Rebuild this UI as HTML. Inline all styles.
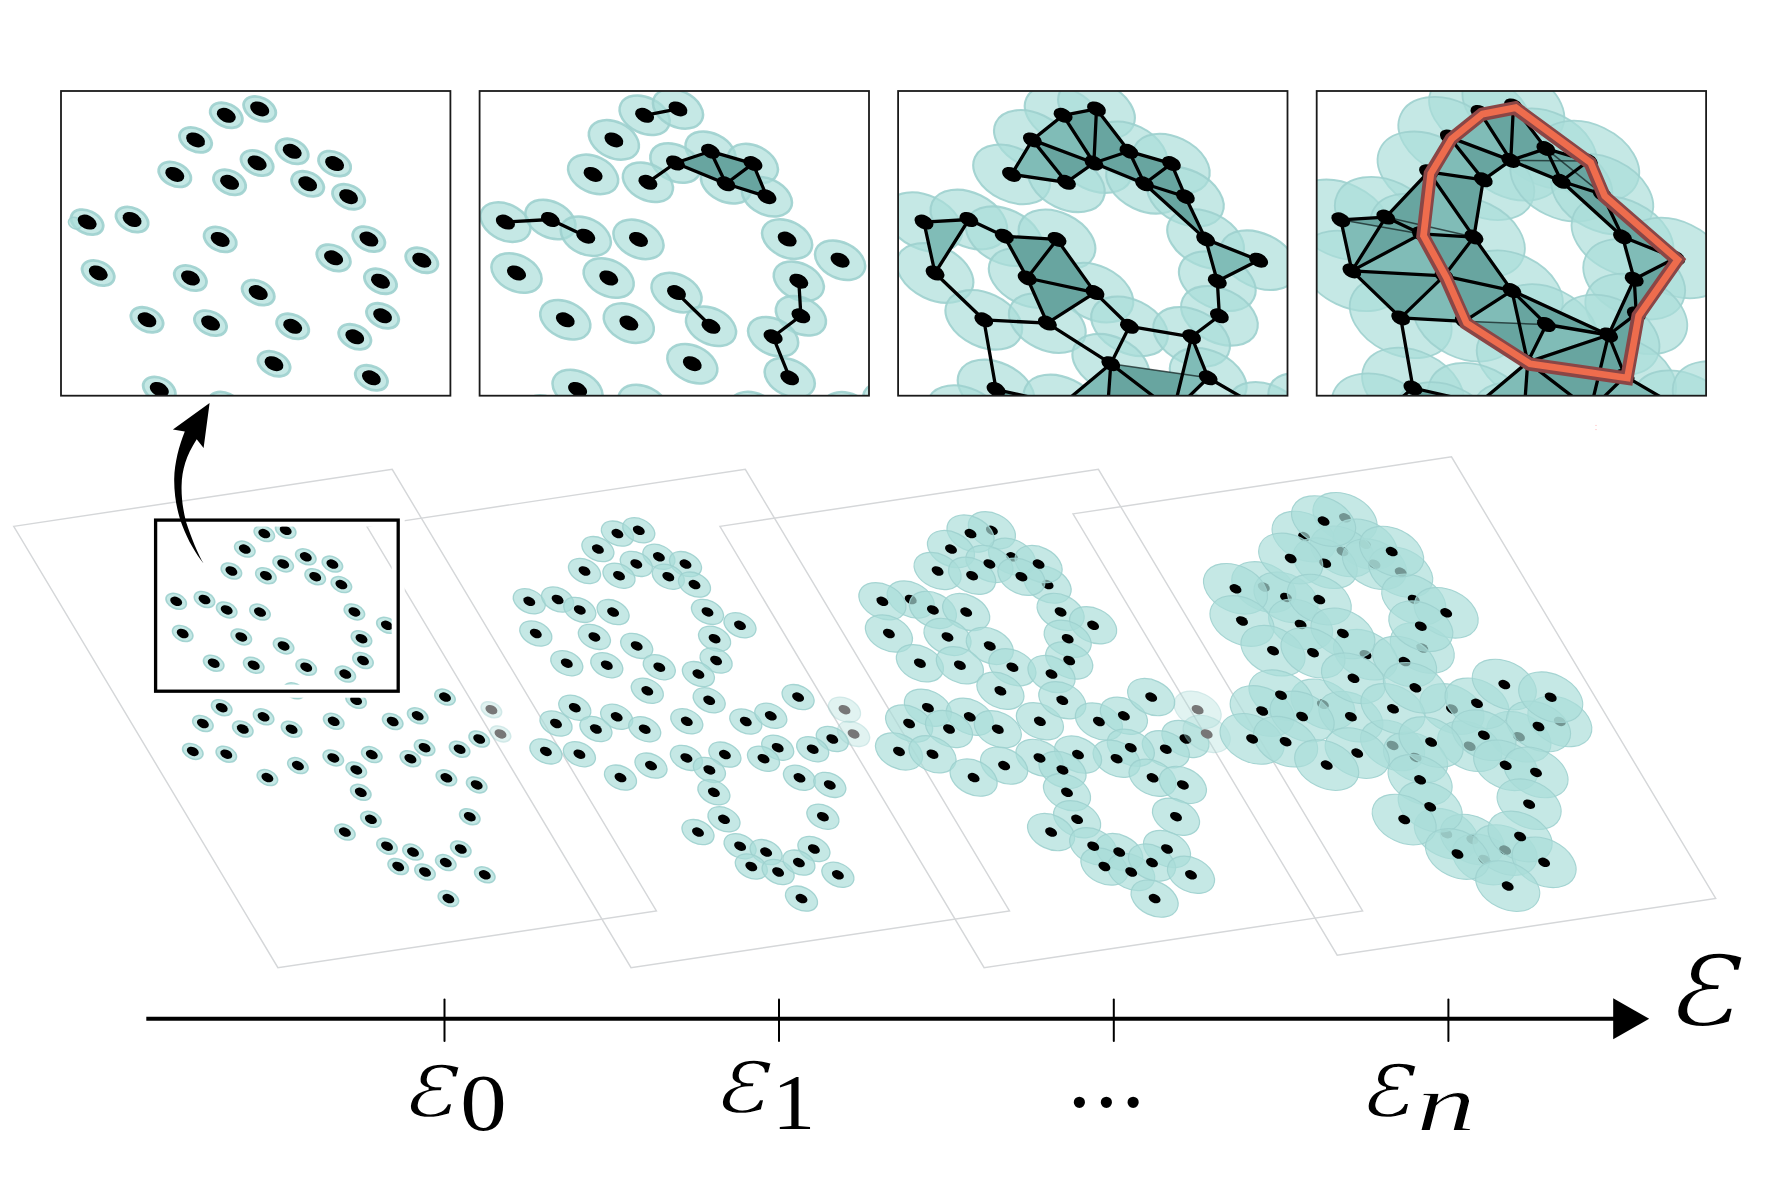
<!DOCTYPE html>
<html lang="en"><head><meta charset="utf-8"><title>Filtration</title>
<style>html,body{margin:0;padding:0;background:#fff;overflow:hidden}svg{display:block}</style></head>
<body>
<svg width="1770" height="1196" viewBox="0 0 1770 1196">
<rect width="1770" height="1196" fill="#fff"/>
<g fill="none" stroke="#d5d7d9" stroke-width="1.45">
<polygon points="13.7,526.4 392.2,469.4 656.4,911.0 277.9,967.7"/>
<polygon points="366.8,526.4 745.3,469.4 1009.5,911.0 631.0,967.7"/>
<polygon points="719.9,526.4 1098.4,469.4 1362.6,911.0 984.1,967.7"/>
<polygon points="1073.0,513.9 1451.5,456.9 1715.7,898.5 1337.2,955.2"/>
</g>
<g id="cloud0">
<ellipse cx="264.3" cy="533.6" rx="10.8" ry="7.2" transform="rotate(25.5 264.3 533.6)" fill="rgba(170,221,217,0.68)" stroke="rgba(157,208,206,0.9)" stroke-width="1.5"/>
<ellipse cx="285.7" cy="530.3" rx="10.8" ry="7.2" transform="rotate(25.5 285.7 530.3)" fill="rgba(170,221,217,0.68)" stroke="rgba(157,208,206,0.9)" stroke-width="1.5"/>
<ellipse cx="244.8" cy="549.1" rx="10.8" ry="7.2" transform="rotate(25.5 244.8 549.1)" fill="rgba(170,221,217,0.68)" stroke="rgba(157,208,206,0.9)" stroke-width="1.5"/>
<ellipse cx="305.8" cy="556.8" rx="10.8" ry="7.2" transform="rotate(25.5 305.8 556.8)" fill="rgba(170,221,217,0.68)" stroke="rgba(157,208,206,0.9)" stroke-width="1.5"/>
<ellipse cx="283.2" cy="563.9" rx="10.8" ry="7.2" transform="rotate(25.5 283.2 563.9)" fill="rgba(170,221,217,0.68)" stroke="rgba(157,208,206,0.9)" stroke-width="1.5"/>
<ellipse cx="332.4" cy="564.1" rx="10.8" ry="7.2" transform="rotate(25.5 332.4 564.1)" fill="rgba(170,221,217,0.68)" stroke="rgba(157,208,206,0.9)" stroke-width="1.5"/>
<ellipse cx="231.4" cy="571.0" rx="10.8" ry="7.2" transform="rotate(25.5 231.4 571.0)" fill="rgba(170,221,217,0.68)" stroke="rgba(157,208,206,0.9)" stroke-width="1.5"/>
<ellipse cx="265.9" cy="575.7" rx="10.8" ry="7.2" transform="rotate(25.5 265.9 575.7)" fill="rgba(170,221,217,0.68)" stroke="rgba(157,208,206,0.9)" stroke-width="1.5"/>
<ellipse cx="315.2" cy="576.7" rx="10.8" ry="7.2" transform="rotate(25.5 315.2 576.7)" fill="rgba(170,221,217,0.68)" stroke="rgba(157,208,206,0.9)" stroke-width="1.5"/>
<ellipse cx="341.4" cy="584.6" rx="10.8" ry="7.2" transform="rotate(25.5 341.4 584.6)" fill="rgba(170,221,217,0.68)" stroke="rgba(157,208,206,0.9)" stroke-width="1.5"/>
<ellipse cx="176.2" cy="601.3" rx="10.8" ry="7.2" transform="rotate(25.5 176.2 601.3)" fill="rgba(170,221,217,0.68)" stroke="rgba(157,208,206,0.9)" stroke-width="1.5"/>
<ellipse cx="204.5" cy="599.5" rx="10.8" ry="7.2" transform="rotate(25.5 204.5 599.5)" fill="rgba(170,221,217,0.68)" stroke="rgba(157,208,206,0.9)" stroke-width="1.5"/>
<ellipse cx="226.7" cy="609.9" rx="10.8" ry="7.2" transform="rotate(25.5 226.7 609.9)" fill="rgba(170,221,217,0.68)" stroke="rgba(157,208,206,0.9)" stroke-width="1.5"/>
<ellipse cx="260.0" cy="612.1" rx="10.8" ry="7.2" transform="rotate(25.5 260.0 612.1)" fill="rgba(170,221,217,0.68)" stroke="rgba(157,208,206,0.9)" stroke-width="1.5"/>
<ellipse cx="354.4" cy="611.9" rx="10.8" ry="7.2" transform="rotate(25.5 354.4 611.9)" fill="rgba(170,221,217,0.68)" stroke="rgba(157,208,206,0.9)" stroke-width="1.5"/>
<ellipse cx="386.9" cy="625.3" rx="10.8" ry="7.2" transform="rotate(25.5 386.9 625.3)" fill="rgba(170,221,217,0.68)" stroke="rgba(157,208,206,0.9)" stroke-width="1.5"/>
<ellipse cx="182.7" cy="633.5" rx="10.8" ry="7.2" transform="rotate(25.5 182.7 633.5)" fill="rgba(170,221,217,0.68)" stroke="rgba(157,208,206,0.9)" stroke-width="1.5"/>
<ellipse cx="241.3" cy="636.9" rx="10.8" ry="7.2" transform="rotate(25.5 241.3 636.9)" fill="rgba(170,221,217,0.68)" stroke="rgba(157,208,206,0.9)" stroke-width="1.5"/>
<ellipse cx="361.5" cy="638.7" rx="10.8" ry="7.2" transform="rotate(25.5 361.5 638.7)" fill="rgba(170,221,217,0.68)" stroke="rgba(157,208,206,0.9)" stroke-width="1.5"/>
<ellipse cx="283.6" cy="645.9" rx="10.8" ry="7.2" transform="rotate(25.5 283.6 645.9)" fill="rgba(170,221,217,0.68)" stroke="rgba(157,208,206,0.9)" stroke-width="1.5"/>
<ellipse cx="363.0" cy="660.5" rx="10.8" ry="7.2" transform="rotate(25.5 363.0 660.5)" fill="rgba(170,221,217,0.68)" stroke="rgba(157,208,206,0.9)" stroke-width="1.5"/>
<ellipse cx="213.7" cy="663.2" rx="10.8" ry="7.2" transform="rotate(25.5 213.7 663.2)" fill="rgba(170,221,217,0.68)" stroke="rgba(157,208,206,0.9)" stroke-width="1.5"/>
<ellipse cx="253.7" cy="665.2" rx="10.8" ry="7.2" transform="rotate(25.5 253.7 665.2)" fill="rgba(170,221,217,0.68)" stroke="rgba(157,208,206,0.9)" stroke-width="1.5"/>
<ellipse cx="306.2" cy="667.2" rx="10.8" ry="7.2" transform="rotate(25.5 306.2 667.2)" fill="rgba(170,221,217,0.68)" stroke="rgba(157,208,206,0.9)" stroke-width="1.5"/>
<ellipse cx="345.3" cy="674.1" rx="10.8" ry="7.2" transform="rotate(25.5 345.3 674.1)" fill="rgba(170,221,217,0.68)" stroke="rgba(157,208,206,0.9)" stroke-width="1.5"/>
<ellipse cx="294.2" cy="690.8" rx="10.8" ry="7.2" transform="rotate(25.5 294.2 690.8)" fill="rgba(170,221,217,0.68)" stroke="rgba(157,208,206,0.9)" stroke-width="1.5"/>
<ellipse cx="221.7" cy="707.7" rx="10.8" ry="7.2" transform="rotate(25.5 221.7 707.7)" fill="rgba(170,221,217,0.68)" stroke="rgba(157,208,206,0.9)" stroke-width="1.5"/>
<ellipse cx="202.9" cy="723.5" rx="10.8" ry="7.2" transform="rotate(25.5 202.9 723.5)" fill="rgba(170,221,217,0.68)" stroke="rgba(157,208,206,0.9)" stroke-width="1.5"/>
<ellipse cx="263.6" cy="716.8" rx="10.8" ry="7.2" transform="rotate(25.5 263.6 716.8)" fill="rgba(170,221,217,0.68)" stroke="rgba(157,208,206,0.9)" stroke-width="1.5"/>
<ellipse cx="242.8" cy="729.0" rx="10.8" ry="7.2" transform="rotate(25.5 242.8 729.0)" fill="rgba(170,221,217,0.68)" stroke="rgba(157,208,206,0.9)" stroke-width="1.5"/>
<ellipse cx="291.6" cy="729.2" rx="10.8" ry="7.2" transform="rotate(25.5 291.6 729.2)" fill="rgba(170,221,217,0.68)" stroke="rgba(157,208,206,0.9)" stroke-width="1.5"/>
<ellipse cx="333.7" cy="721.3" rx="10.8" ry="7.2" transform="rotate(25.5 333.7 721.3)" fill="rgba(170,221,217,0.68)" stroke="rgba(157,208,206,0.9)" stroke-width="1.5"/>
<ellipse cx="356.1" cy="700.3" rx="10.8" ry="7.2" transform="rotate(25.5 356.1 700.3)" fill="rgba(170,221,217,0.68)" stroke="rgba(157,208,206,0.9)" stroke-width="1.5"/>
<ellipse cx="392.7" cy="721.5" rx="10.8" ry="7.2" transform="rotate(25.5 392.7 721.5)" fill="rgba(170,221,217,0.68)" stroke="rgba(157,208,206,0.9)" stroke-width="1.5"/>
<ellipse cx="417.7" cy="715.8" rx="10.8" ry="7.2" transform="rotate(25.5 417.7 715.8)" fill="rgba(170,221,217,0.68)" stroke="rgba(157,208,206,0.9)" stroke-width="1.5"/>
<ellipse cx="445.0" cy="697.1" rx="10.8" ry="7.2" transform="rotate(25.5 445.0 697.1)" fill="rgba(170,221,217,0.68)" stroke="rgba(157,208,206,0.9)" stroke-width="1.5"/>
<ellipse cx="479.2" cy="739.0" rx="10.8" ry="7.2" transform="rotate(25.5 479.2 739.0)" fill="rgba(170,221,217,0.68)" stroke="rgba(157,208,206,0.9)" stroke-width="1.5"/>
<ellipse cx="459.6" cy="749.2" rx="10.8" ry="7.2" transform="rotate(25.5 459.6 749.2)" fill="rgba(170,221,217,0.68)" stroke="rgba(157,208,206,0.9)" stroke-width="1.5"/>
<ellipse cx="424.6" cy="747.7" rx="10.8" ry="7.2" transform="rotate(25.5 424.6 747.7)" fill="rgba(170,221,217,0.68)" stroke="rgba(157,208,206,0.9)" stroke-width="1.5"/>
<ellipse cx="410.4" cy="758.7" rx="10.8" ry="7.2" transform="rotate(25.5 410.4 758.7)" fill="rgba(170,221,217,0.68)" stroke="rgba(157,208,206,0.9)" stroke-width="1.5"/>
<ellipse cx="371.8" cy="754.6" rx="10.8" ry="7.2" transform="rotate(25.5 371.8 754.6)" fill="rgba(170,221,217,0.68)" stroke="rgba(157,208,206,0.9)" stroke-width="1.5"/>
<ellipse cx="333.3" cy="757.9" rx="10.8" ry="7.2" transform="rotate(25.5 333.3 757.9)" fill="rgba(170,221,217,0.68)" stroke="rgba(157,208,206,0.9)" stroke-width="1.5"/>
<ellipse cx="356.3" cy="769.9" rx="10.8" ry="7.2" transform="rotate(25.5 356.3 769.9)" fill="rgba(170,221,217,0.68)" stroke="rgba(157,208,206,0.9)" stroke-width="1.5"/>
<ellipse cx="192.8" cy="751.4" rx="10.8" ry="7.2" transform="rotate(25.5 192.8 751.4)" fill="rgba(170,221,217,0.68)" stroke="rgba(157,208,206,0.9)" stroke-width="1.5"/>
<ellipse cx="226.3" cy="754.2" rx="10.8" ry="7.2" transform="rotate(25.5 226.3 754.2)" fill="rgba(170,221,217,0.68)" stroke="rgba(157,208,206,0.9)" stroke-width="1.5"/>
<ellipse cx="297.9" cy="765.6" rx="10.8" ry="7.2" transform="rotate(25.5 297.9 765.6)" fill="rgba(170,221,217,0.68)" stroke="rgba(157,208,206,0.9)" stroke-width="1.5"/>
<ellipse cx="267.4" cy="777.6" rx="10.8" ry="7.2" transform="rotate(25.5 267.4 777.6)" fill="rgba(170,221,217,0.68)" stroke="rgba(157,208,206,0.9)" stroke-width="1.5"/>
<ellipse cx="360.8" cy="792.3" rx="10.8" ry="7.2" transform="rotate(25.5 360.8 792.3)" fill="rgba(170,221,217,0.68)" stroke="rgba(157,208,206,0.9)" stroke-width="1.5"/>
<ellipse cx="446.4" cy="777.8" rx="10.8" ry="7.2" transform="rotate(25.5 446.4 777.8)" fill="rgba(170,221,217,0.68)" stroke="rgba(157,208,206,0.9)" stroke-width="1.5"/>
<ellipse cx="476.7" cy="784.9" rx="10.8" ry="7.2" transform="rotate(25.5 476.7 784.9)" fill="rgba(170,221,217,0.68)" stroke="rgba(157,208,206,0.9)" stroke-width="1.5"/>
<ellipse cx="370.9" cy="819.3" rx="10.8" ry="7.2" transform="rotate(25.5 370.9 819.3)" fill="rgba(170,221,217,0.68)" stroke="rgba(157,208,206,0.9)" stroke-width="1.5"/>
<ellipse cx="344.9" cy="832.1" rx="10.8" ry="7.2" transform="rotate(25.5 344.9 832.1)" fill="rgba(170,221,217,0.68)" stroke="rgba(157,208,206,0.9)" stroke-width="1.5"/>
<ellipse cx="469.8" cy="816.7" rx="10.8" ry="7.2" transform="rotate(25.5 469.8 816.7)" fill="rgba(170,221,217,0.68)" stroke="rgba(157,208,206,0.9)" stroke-width="1.5"/>
<ellipse cx="387.0" cy="846.2" rx="10.8" ry="7.2" transform="rotate(25.5 387.0 846.2)" fill="rgba(170,221,217,0.68)" stroke="rgba(157,208,206,0.9)" stroke-width="1.5"/>
<ellipse cx="413.0" cy="852.1" rx="10.8" ry="7.2" transform="rotate(25.5 413.0 852.1)" fill="rgba(170,221,217,0.68)" stroke="rgba(157,208,206,0.9)" stroke-width="1.5"/>
<ellipse cx="460.8" cy="849.0" rx="10.8" ry="7.2" transform="rotate(25.5 460.8 849.0)" fill="rgba(170,221,217,0.68)" stroke="rgba(157,208,206,0.9)" stroke-width="1.5"/>
<ellipse cx="398.2" cy="866.5" rx="10.8" ry="7.2" transform="rotate(25.5 398.2 866.5)" fill="rgba(170,221,217,0.68)" stroke="rgba(157,208,206,0.9)" stroke-width="1.5"/>
<ellipse cx="425.0" cy="872.0" rx="10.8" ry="7.2" transform="rotate(25.5 425.0 872.0)" fill="rgba(170,221,217,0.68)" stroke="rgba(157,208,206,0.9)" stroke-width="1.5"/>
<ellipse cx="445.8" cy="862.6" rx="10.8" ry="7.2" transform="rotate(25.5 445.8 862.6)" fill="rgba(170,221,217,0.68)" stroke="rgba(157,208,206,0.9)" stroke-width="1.5"/>
<ellipse cx="484.8" cy="874.8" rx="10.8" ry="7.2" transform="rotate(25.5 484.8 874.8)" fill="rgba(170,221,217,0.68)" stroke="rgba(157,208,206,0.9)" stroke-width="1.5"/>
<ellipse cx="448.4" cy="898.6" rx="10.8" ry="7.2" transform="rotate(25.5 448.4 898.6)" fill="rgba(170,221,217,0.68)" stroke="rgba(157,208,206,0.9)" stroke-width="1.5"/>
<ellipse cx="264.3" cy="533.6" rx="6.3" ry="4.3" transform="rotate(25.5 264.3 533.6)" fill="#000"/>
<ellipse cx="285.7" cy="530.3" rx="6.3" ry="4.3" transform="rotate(25.5 285.7 530.3)" fill="#000"/>
<ellipse cx="244.8" cy="549.1" rx="6.3" ry="4.3" transform="rotate(25.5 244.8 549.1)" fill="#000"/>
<ellipse cx="305.8" cy="556.8" rx="6.3" ry="4.3" transform="rotate(25.5 305.8 556.8)" fill="#000"/>
<ellipse cx="283.2" cy="563.9" rx="6.3" ry="4.3" transform="rotate(25.5 283.2 563.9)" fill="#000"/>
<ellipse cx="332.4" cy="564.1" rx="6.3" ry="4.3" transform="rotate(25.5 332.4 564.1)" fill="#000"/>
<ellipse cx="231.4" cy="571.0" rx="6.3" ry="4.3" transform="rotate(25.5 231.4 571.0)" fill="#000"/>
<ellipse cx="265.9" cy="575.7" rx="6.3" ry="4.3" transform="rotate(25.5 265.9 575.7)" fill="#000"/>
<ellipse cx="315.2" cy="576.7" rx="6.3" ry="4.3" transform="rotate(25.5 315.2 576.7)" fill="#000"/>
<ellipse cx="341.4" cy="584.6" rx="6.3" ry="4.3" transform="rotate(25.5 341.4 584.6)" fill="#000"/>
<ellipse cx="176.2" cy="601.3" rx="6.3" ry="4.3" transform="rotate(25.5 176.2 601.3)" fill="#000"/>
<ellipse cx="204.5" cy="599.5" rx="6.3" ry="4.3" transform="rotate(25.5 204.5 599.5)" fill="#000"/>
<ellipse cx="226.7" cy="609.9" rx="6.3" ry="4.3" transform="rotate(25.5 226.7 609.9)" fill="#000"/>
<ellipse cx="260.0" cy="612.1" rx="6.3" ry="4.3" transform="rotate(25.5 260.0 612.1)" fill="#000"/>
<ellipse cx="354.4" cy="611.9" rx="6.3" ry="4.3" transform="rotate(25.5 354.4 611.9)" fill="#000"/>
<ellipse cx="386.9" cy="625.3" rx="6.3" ry="4.3" transform="rotate(25.5 386.9 625.3)" fill="#000"/>
<ellipse cx="182.7" cy="633.5" rx="6.3" ry="4.3" transform="rotate(25.5 182.7 633.5)" fill="#000"/>
<ellipse cx="241.3" cy="636.9" rx="6.3" ry="4.3" transform="rotate(25.5 241.3 636.9)" fill="#000"/>
<ellipse cx="361.5" cy="638.7" rx="6.3" ry="4.3" transform="rotate(25.5 361.5 638.7)" fill="#000"/>
<ellipse cx="283.6" cy="645.9" rx="6.3" ry="4.3" transform="rotate(25.5 283.6 645.9)" fill="#000"/>
<ellipse cx="363.0" cy="660.5" rx="6.3" ry="4.3" transform="rotate(25.5 363.0 660.5)" fill="#000"/>
<ellipse cx="213.7" cy="663.2" rx="6.3" ry="4.3" transform="rotate(25.5 213.7 663.2)" fill="#000"/>
<ellipse cx="253.7" cy="665.2" rx="6.3" ry="4.3" transform="rotate(25.5 253.7 665.2)" fill="#000"/>
<ellipse cx="306.2" cy="667.2" rx="6.3" ry="4.3" transform="rotate(25.5 306.2 667.2)" fill="#000"/>
<ellipse cx="345.3" cy="674.1" rx="6.3" ry="4.3" transform="rotate(25.5 345.3 674.1)" fill="#000"/>
<ellipse cx="294.2" cy="690.8" rx="6.3" ry="4.3" transform="rotate(25.5 294.2 690.8)" fill="#000"/>
<ellipse cx="221.7" cy="707.7" rx="6.3" ry="4.3" transform="rotate(25.5 221.7 707.7)" fill="#000"/>
<ellipse cx="202.9" cy="723.5" rx="6.3" ry="4.3" transform="rotate(25.5 202.9 723.5)" fill="#000"/>
<ellipse cx="263.6" cy="716.8" rx="6.3" ry="4.3" transform="rotate(25.5 263.6 716.8)" fill="#000"/>
<ellipse cx="242.8" cy="729.0" rx="6.3" ry="4.3" transform="rotate(25.5 242.8 729.0)" fill="#000"/>
<ellipse cx="291.6" cy="729.2" rx="6.3" ry="4.3" transform="rotate(25.5 291.6 729.2)" fill="#000"/>
<ellipse cx="333.7" cy="721.3" rx="6.3" ry="4.3" transform="rotate(25.5 333.7 721.3)" fill="#000"/>
<ellipse cx="356.1" cy="700.3" rx="6.3" ry="4.3" transform="rotate(25.5 356.1 700.3)" fill="#000"/>
<ellipse cx="392.7" cy="721.5" rx="6.3" ry="4.3" transform="rotate(25.5 392.7 721.5)" fill="#000"/>
<ellipse cx="417.7" cy="715.8" rx="6.3" ry="4.3" transform="rotate(25.5 417.7 715.8)" fill="#000"/>
<ellipse cx="445.0" cy="697.1" rx="6.3" ry="4.3" transform="rotate(25.5 445.0 697.1)" fill="#000"/>
<ellipse cx="479.2" cy="739.0" rx="6.3" ry="4.3" transform="rotate(25.5 479.2 739.0)" fill="#000"/>
<ellipse cx="459.6" cy="749.2" rx="6.3" ry="4.3" transform="rotate(25.5 459.6 749.2)" fill="#000"/>
<ellipse cx="424.6" cy="747.7" rx="6.3" ry="4.3" transform="rotate(25.5 424.6 747.7)" fill="#000"/>
<ellipse cx="410.4" cy="758.7" rx="6.3" ry="4.3" transform="rotate(25.5 410.4 758.7)" fill="#000"/>
<ellipse cx="371.8" cy="754.6" rx="6.3" ry="4.3" transform="rotate(25.5 371.8 754.6)" fill="#000"/>
<ellipse cx="333.3" cy="757.9" rx="6.3" ry="4.3" transform="rotate(25.5 333.3 757.9)" fill="#000"/>
<ellipse cx="356.3" cy="769.9" rx="6.3" ry="4.3" transform="rotate(25.5 356.3 769.9)" fill="#000"/>
<ellipse cx="192.8" cy="751.4" rx="6.3" ry="4.3" transform="rotate(25.5 192.8 751.4)" fill="#000"/>
<ellipse cx="226.3" cy="754.2" rx="6.3" ry="4.3" transform="rotate(25.5 226.3 754.2)" fill="#000"/>
<ellipse cx="297.9" cy="765.6" rx="6.3" ry="4.3" transform="rotate(25.5 297.9 765.6)" fill="#000"/>
<ellipse cx="267.4" cy="777.6" rx="6.3" ry="4.3" transform="rotate(25.5 267.4 777.6)" fill="#000"/>
<ellipse cx="360.8" cy="792.3" rx="6.3" ry="4.3" transform="rotate(25.5 360.8 792.3)" fill="#000"/>
<ellipse cx="446.4" cy="777.8" rx="6.3" ry="4.3" transform="rotate(25.5 446.4 777.8)" fill="#000"/>
<ellipse cx="476.7" cy="784.9" rx="6.3" ry="4.3" transform="rotate(25.5 476.7 784.9)" fill="#000"/>
<ellipse cx="370.9" cy="819.3" rx="6.3" ry="4.3" transform="rotate(25.5 370.9 819.3)" fill="#000"/>
<ellipse cx="344.9" cy="832.1" rx="6.3" ry="4.3" transform="rotate(25.5 344.9 832.1)" fill="#000"/>
<ellipse cx="469.8" cy="816.7" rx="6.3" ry="4.3" transform="rotate(25.5 469.8 816.7)" fill="#000"/>
<ellipse cx="387.0" cy="846.2" rx="6.3" ry="4.3" transform="rotate(25.5 387.0 846.2)" fill="#000"/>
<ellipse cx="413.0" cy="852.1" rx="6.3" ry="4.3" transform="rotate(25.5 413.0 852.1)" fill="#000"/>
<ellipse cx="460.8" cy="849.0" rx="6.3" ry="4.3" transform="rotate(25.5 460.8 849.0)" fill="#000"/>
<ellipse cx="398.2" cy="866.5" rx="6.3" ry="4.3" transform="rotate(25.5 398.2 866.5)" fill="#000"/>
<ellipse cx="425.0" cy="872.0" rx="6.3" ry="4.3" transform="rotate(25.5 425.0 872.0)" fill="#000"/>
<ellipse cx="445.8" cy="862.6" rx="6.3" ry="4.3" transform="rotate(25.5 445.8 862.6)" fill="#000"/>
<ellipse cx="484.8" cy="874.8" rx="6.3" ry="4.3" transform="rotate(25.5 484.8 874.8)" fill="#000"/>
<ellipse cx="448.4" cy="898.6" rx="6.3" ry="4.3" transform="rotate(25.5 448.4 898.6)" fill="#000"/>
<ellipse cx="491.4" cy="709.7" rx="10.8" ry="7.2" transform="rotate(25.5 491.4 709.7)" fill="rgba(170,221,217,0.68)" stroke="rgba(157,208,206,0.9)" stroke-width="1.5" opacity="0.5"/>
<ellipse cx="491.4" cy="709.7" rx="6.3" ry="4.3" transform="rotate(25.5 491.4 709.7)" fill="#777"/>
<ellipse cx="500.5" cy="733.9" rx="10.8" ry="7.2" transform="rotate(25.5 500.5 733.9)" fill="rgba(170,221,217,0.68)" stroke="rgba(157,208,206,0.9)" stroke-width="1.5" opacity="0.5"/>
<ellipse cx="500.5" cy="733.9" rx="6.3" ry="4.3" transform="rotate(25.5 500.5 733.9)" fill="#777"/>
</g>
<g id="cloud1">
<ellipse cx="617.4" cy="533.6" rx="16.9" ry="11.4" transform="rotate(25.5 617.4 533.6)" fill="rgba(170,221,217,0.68)" stroke="rgba(157,208,206,0.9)" stroke-width="1.3"/>
<ellipse cx="638.8" cy="530.3" rx="16.9" ry="11.4" transform="rotate(25.5 638.8 530.3)" fill="rgba(170,221,217,0.68)" stroke="rgba(157,208,206,0.9)" stroke-width="1.3"/>
<ellipse cx="597.9" cy="549.1" rx="16.9" ry="11.4" transform="rotate(25.5 597.9 549.1)" fill="rgba(170,221,217,0.68)" stroke="rgba(157,208,206,0.9)" stroke-width="1.3"/>
<ellipse cx="658.9" cy="556.8" rx="16.9" ry="11.4" transform="rotate(25.5 658.9 556.8)" fill="rgba(170,221,217,0.68)" stroke="rgba(157,208,206,0.9)" stroke-width="1.3"/>
<ellipse cx="636.3" cy="563.9" rx="16.9" ry="11.4" transform="rotate(25.5 636.3 563.9)" fill="rgba(170,221,217,0.68)" stroke="rgba(157,208,206,0.9)" stroke-width="1.3"/>
<ellipse cx="685.5" cy="564.1" rx="16.9" ry="11.4" transform="rotate(25.5 685.5 564.1)" fill="rgba(170,221,217,0.68)" stroke="rgba(157,208,206,0.9)" stroke-width="1.3"/>
<ellipse cx="584.5" cy="571.0" rx="16.9" ry="11.4" transform="rotate(25.5 584.5 571.0)" fill="rgba(170,221,217,0.68)" stroke="rgba(157,208,206,0.9)" stroke-width="1.3"/>
<ellipse cx="619.0" cy="575.7" rx="16.9" ry="11.4" transform="rotate(25.5 619.0 575.7)" fill="rgba(170,221,217,0.68)" stroke="rgba(157,208,206,0.9)" stroke-width="1.3"/>
<ellipse cx="668.3" cy="576.7" rx="16.9" ry="11.4" transform="rotate(25.5 668.3 576.7)" fill="rgba(170,221,217,0.68)" stroke="rgba(157,208,206,0.9)" stroke-width="1.3"/>
<ellipse cx="694.5" cy="584.6" rx="16.9" ry="11.4" transform="rotate(25.5 694.5 584.6)" fill="rgba(170,221,217,0.68)" stroke="rgba(157,208,206,0.9)" stroke-width="1.3"/>
<ellipse cx="529.3" cy="601.3" rx="16.9" ry="11.4" transform="rotate(25.5 529.3 601.3)" fill="rgba(170,221,217,0.68)" stroke="rgba(157,208,206,0.9)" stroke-width="1.3"/>
<ellipse cx="557.6" cy="599.5" rx="16.9" ry="11.4" transform="rotate(25.5 557.6 599.5)" fill="rgba(170,221,217,0.68)" stroke="rgba(157,208,206,0.9)" stroke-width="1.3"/>
<ellipse cx="579.8" cy="609.9" rx="16.9" ry="11.4" transform="rotate(25.5 579.8 609.9)" fill="rgba(170,221,217,0.68)" stroke="rgba(157,208,206,0.9)" stroke-width="1.3"/>
<ellipse cx="613.1" cy="612.1" rx="16.9" ry="11.4" transform="rotate(25.5 613.1 612.1)" fill="rgba(170,221,217,0.68)" stroke="rgba(157,208,206,0.9)" stroke-width="1.3"/>
<ellipse cx="707.5" cy="611.9" rx="16.9" ry="11.4" transform="rotate(25.5 707.5 611.9)" fill="rgba(170,221,217,0.68)" stroke="rgba(157,208,206,0.9)" stroke-width="1.3"/>
<ellipse cx="740.0" cy="625.3" rx="16.9" ry="11.4" transform="rotate(25.5 740.0 625.3)" fill="rgba(170,221,217,0.68)" stroke="rgba(157,208,206,0.9)" stroke-width="1.3"/>
<ellipse cx="535.8" cy="633.5" rx="16.9" ry="11.4" transform="rotate(25.5 535.8 633.5)" fill="rgba(170,221,217,0.68)" stroke="rgba(157,208,206,0.9)" stroke-width="1.3"/>
<ellipse cx="594.4" cy="636.9" rx="16.9" ry="11.4" transform="rotate(25.5 594.4 636.9)" fill="rgba(170,221,217,0.68)" stroke="rgba(157,208,206,0.9)" stroke-width="1.3"/>
<ellipse cx="714.6" cy="638.7" rx="16.9" ry="11.4" transform="rotate(25.5 714.6 638.7)" fill="rgba(170,221,217,0.68)" stroke="rgba(157,208,206,0.9)" stroke-width="1.3"/>
<ellipse cx="636.7" cy="645.9" rx="16.9" ry="11.4" transform="rotate(25.5 636.7 645.9)" fill="rgba(170,221,217,0.68)" stroke="rgba(157,208,206,0.9)" stroke-width="1.3"/>
<ellipse cx="716.1" cy="660.5" rx="16.9" ry="11.4" transform="rotate(25.5 716.1 660.5)" fill="rgba(170,221,217,0.68)" stroke="rgba(157,208,206,0.9)" stroke-width="1.3"/>
<ellipse cx="566.8" cy="663.2" rx="16.9" ry="11.4" transform="rotate(25.5 566.8 663.2)" fill="rgba(170,221,217,0.68)" stroke="rgba(157,208,206,0.9)" stroke-width="1.3"/>
<ellipse cx="606.8" cy="665.2" rx="16.9" ry="11.4" transform="rotate(25.5 606.8 665.2)" fill="rgba(170,221,217,0.68)" stroke="rgba(157,208,206,0.9)" stroke-width="1.3"/>
<ellipse cx="659.3" cy="667.2" rx="16.9" ry="11.4" transform="rotate(25.5 659.3 667.2)" fill="rgba(170,221,217,0.68)" stroke="rgba(157,208,206,0.9)" stroke-width="1.3"/>
<ellipse cx="698.4" cy="674.1" rx="16.9" ry="11.4" transform="rotate(25.5 698.4 674.1)" fill="rgba(170,221,217,0.68)" stroke="rgba(157,208,206,0.9)" stroke-width="1.3"/>
<ellipse cx="647.3" cy="690.8" rx="16.9" ry="11.4" transform="rotate(25.5 647.3 690.8)" fill="rgba(170,221,217,0.68)" stroke="rgba(157,208,206,0.9)" stroke-width="1.3"/>
<ellipse cx="574.8" cy="707.7" rx="16.9" ry="11.4" transform="rotate(25.5 574.8 707.7)" fill="rgba(170,221,217,0.68)" stroke="rgba(157,208,206,0.9)" stroke-width="1.3"/>
<ellipse cx="556.0" cy="723.5" rx="16.9" ry="11.4" transform="rotate(25.5 556.0 723.5)" fill="rgba(170,221,217,0.68)" stroke="rgba(157,208,206,0.9)" stroke-width="1.3"/>
<ellipse cx="616.7" cy="716.8" rx="16.9" ry="11.4" transform="rotate(25.5 616.7 716.8)" fill="rgba(170,221,217,0.68)" stroke="rgba(157,208,206,0.9)" stroke-width="1.3"/>
<ellipse cx="595.9" cy="729.0" rx="16.9" ry="11.4" transform="rotate(25.5 595.9 729.0)" fill="rgba(170,221,217,0.68)" stroke="rgba(157,208,206,0.9)" stroke-width="1.3"/>
<ellipse cx="644.7" cy="729.2" rx="16.9" ry="11.4" transform="rotate(25.5 644.7 729.2)" fill="rgba(170,221,217,0.68)" stroke="rgba(157,208,206,0.9)" stroke-width="1.3"/>
<ellipse cx="686.8" cy="721.3" rx="16.9" ry="11.4" transform="rotate(25.5 686.8 721.3)" fill="rgba(170,221,217,0.68)" stroke="rgba(157,208,206,0.9)" stroke-width="1.3"/>
<ellipse cx="709.2" cy="700.3" rx="16.9" ry="11.4" transform="rotate(25.5 709.2 700.3)" fill="rgba(170,221,217,0.68)" stroke="rgba(157,208,206,0.9)" stroke-width="1.3"/>
<ellipse cx="745.8" cy="721.5" rx="16.9" ry="11.4" transform="rotate(25.5 745.8 721.5)" fill="rgba(170,221,217,0.68)" stroke="rgba(157,208,206,0.9)" stroke-width="1.3"/>
<ellipse cx="770.8" cy="715.8" rx="16.9" ry="11.4" transform="rotate(25.5 770.8 715.8)" fill="rgba(170,221,217,0.68)" stroke="rgba(157,208,206,0.9)" stroke-width="1.3"/>
<ellipse cx="798.1" cy="697.1" rx="16.9" ry="11.4" transform="rotate(25.5 798.1 697.1)" fill="rgba(170,221,217,0.68)" stroke="rgba(157,208,206,0.9)" stroke-width="1.3"/>
<ellipse cx="832.3" cy="739.0" rx="16.9" ry="11.4" transform="rotate(25.5 832.3 739.0)" fill="rgba(170,221,217,0.68)" stroke="rgba(157,208,206,0.9)" stroke-width="1.3"/>
<ellipse cx="812.7" cy="749.2" rx="16.9" ry="11.4" transform="rotate(25.5 812.7 749.2)" fill="rgba(170,221,217,0.68)" stroke="rgba(157,208,206,0.9)" stroke-width="1.3"/>
<ellipse cx="777.7" cy="747.7" rx="16.9" ry="11.4" transform="rotate(25.5 777.7 747.7)" fill="rgba(170,221,217,0.68)" stroke="rgba(157,208,206,0.9)" stroke-width="1.3"/>
<ellipse cx="763.5" cy="758.7" rx="16.9" ry="11.4" transform="rotate(25.5 763.5 758.7)" fill="rgba(170,221,217,0.68)" stroke="rgba(157,208,206,0.9)" stroke-width="1.3"/>
<ellipse cx="724.9" cy="754.6" rx="16.9" ry="11.4" transform="rotate(25.5 724.9 754.6)" fill="rgba(170,221,217,0.68)" stroke="rgba(157,208,206,0.9)" stroke-width="1.3"/>
<ellipse cx="686.4" cy="757.9" rx="16.9" ry="11.4" transform="rotate(25.5 686.4 757.9)" fill="rgba(170,221,217,0.68)" stroke="rgba(157,208,206,0.9)" stroke-width="1.3"/>
<ellipse cx="709.4" cy="769.9" rx="16.9" ry="11.4" transform="rotate(25.5 709.4 769.9)" fill="rgba(170,221,217,0.68)" stroke="rgba(157,208,206,0.9)" stroke-width="1.3"/>
<ellipse cx="545.9" cy="751.4" rx="16.9" ry="11.4" transform="rotate(25.5 545.9 751.4)" fill="rgba(170,221,217,0.68)" stroke="rgba(157,208,206,0.9)" stroke-width="1.3"/>
<ellipse cx="579.4" cy="754.2" rx="16.9" ry="11.4" transform="rotate(25.5 579.4 754.2)" fill="rgba(170,221,217,0.68)" stroke="rgba(157,208,206,0.9)" stroke-width="1.3"/>
<ellipse cx="651.0" cy="765.6" rx="16.9" ry="11.4" transform="rotate(25.5 651.0 765.6)" fill="rgba(170,221,217,0.68)" stroke="rgba(157,208,206,0.9)" stroke-width="1.3"/>
<ellipse cx="620.5" cy="777.6" rx="16.9" ry="11.4" transform="rotate(25.5 620.5 777.6)" fill="rgba(170,221,217,0.68)" stroke="rgba(157,208,206,0.9)" stroke-width="1.3"/>
<ellipse cx="713.9" cy="792.3" rx="16.9" ry="11.4" transform="rotate(25.5 713.9 792.3)" fill="rgba(170,221,217,0.68)" stroke="rgba(157,208,206,0.9)" stroke-width="1.3"/>
<ellipse cx="799.5" cy="777.8" rx="16.9" ry="11.4" transform="rotate(25.5 799.5 777.8)" fill="rgba(170,221,217,0.68)" stroke="rgba(157,208,206,0.9)" stroke-width="1.3"/>
<ellipse cx="829.8" cy="784.9" rx="16.9" ry="11.4" transform="rotate(25.5 829.8 784.9)" fill="rgba(170,221,217,0.68)" stroke="rgba(157,208,206,0.9)" stroke-width="1.3"/>
<ellipse cx="724.0" cy="819.3" rx="16.9" ry="11.4" transform="rotate(25.5 724.0 819.3)" fill="rgba(170,221,217,0.68)" stroke="rgba(157,208,206,0.9)" stroke-width="1.3"/>
<ellipse cx="698.0" cy="832.1" rx="16.9" ry="11.4" transform="rotate(25.5 698.0 832.1)" fill="rgba(170,221,217,0.68)" stroke="rgba(157,208,206,0.9)" stroke-width="1.3"/>
<ellipse cx="822.9" cy="816.7" rx="16.9" ry="11.4" transform="rotate(25.5 822.9 816.7)" fill="rgba(170,221,217,0.68)" stroke="rgba(157,208,206,0.9)" stroke-width="1.3"/>
<ellipse cx="740.1" cy="846.2" rx="16.9" ry="11.4" transform="rotate(25.5 740.1 846.2)" fill="rgba(170,221,217,0.68)" stroke="rgba(157,208,206,0.9)" stroke-width="1.3"/>
<ellipse cx="766.1" cy="852.1" rx="16.9" ry="11.4" transform="rotate(25.5 766.1 852.1)" fill="rgba(170,221,217,0.68)" stroke="rgba(157,208,206,0.9)" stroke-width="1.3"/>
<ellipse cx="813.9" cy="849.0" rx="16.9" ry="11.4" transform="rotate(25.5 813.9 849.0)" fill="rgba(170,221,217,0.68)" stroke="rgba(157,208,206,0.9)" stroke-width="1.3"/>
<ellipse cx="751.3" cy="866.5" rx="16.9" ry="11.4" transform="rotate(25.5 751.3 866.5)" fill="rgba(170,221,217,0.68)" stroke="rgba(157,208,206,0.9)" stroke-width="1.3"/>
<ellipse cx="778.1" cy="872.0" rx="16.9" ry="11.4" transform="rotate(25.5 778.1 872.0)" fill="rgba(170,221,217,0.68)" stroke="rgba(157,208,206,0.9)" stroke-width="1.3"/>
<ellipse cx="798.9" cy="862.6" rx="16.9" ry="11.4" transform="rotate(25.5 798.9 862.6)" fill="rgba(170,221,217,0.68)" stroke="rgba(157,208,206,0.9)" stroke-width="1.3"/>
<ellipse cx="837.9" cy="874.8" rx="16.9" ry="11.4" transform="rotate(25.5 837.9 874.8)" fill="rgba(170,221,217,0.68)" stroke="rgba(157,208,206,0.9)" stroke-width="1.3"/>
<ellipse cx="801.5" cy="898.6" rx="16.9" ry="11.4" transform="rotate(25.5 801.5 898.6)" fill="rgba(170,221,217,0.68)" stroke="rgba(157,208,206,0.9)" stroke-width="1.3"/>
<ellipse cx="617.4" cy="533.6" rx="6.3" ry="4.3" transform="rotate(25.5 617.4 533.6)" fill="#000"/>
<ellipse cx="638.8" cy="530.3" rx="6.3" ry="4.3" transform="rotate(25.5 638.8 530.3)" fill="#000"/>
<ellipse cx="597.9" cy="549.1" rx="6.3" ry="4.3" transform="rotate(25.5 597.9 549.1)" fill="#000"/>
<ellipse cx="658.9" cy="556.8" rx="6.3" ry="4.3" transform="rotate(25.5 658.9 556.8)" fill="#000"/>
<ellipse cx="636.3" cy="563.9" rx="6.3" ry="4.3" transform="rotate(25.5 636.3 563.9)" fill="#000"/>
<ellipse cx="685.5" cy="564.1" rx="6.3" ry="4.3" transform="rotate(25.5 685.5 564.1)" fill="#000"/>
<ellipse cx="584.5" cy="571.0" rx="6.3" ry="4.3" transform="rotate(25.5 584.5 571.0)" fill="#000"/>
<ellipse cx="619.0" cy="575.7" rx="6.3" ry="4.3" transform="rotate(25.5 619.0 575.7)" fill="#000"/>
<ellipse cx="668.3" cy="576.7" rx="6.3" ry="4.3" transform="rotate(25.5 668.3 576.7)" fill="#000"/>
<ellipse cx="694.5" cy="584.6" rx="6.3" ry="4.3" transform="rotate(25.5 694.5 584.6)" fill="#000"/>
<ellipse cx="529.3" cy="601.3" rx="6.3" ry="4.3" transform="rotate(25.5 529.3 601.3)" fill="#000"/>
<ellipse cx="557.6" cy="599.5" rx="6.3" ry="4.3" transform="rotate(25.5 557.6 599.5)" fill="#000"/>
<ellipse cx="579.8" cy="609.9" rx="6.3" ry="4.3" transform="rotate(25.5 579.8 609.9)" fill="#000"/>
<ellipse cx="613.1" cy="612.1" rx="6.3" ry="4.3" transform="rotate(25.5 613.1 612.1)" fill="#000"/>
<ellipse cx="707.5" cy="611.9" rx="6.3" ry="4.3" transform="rotate(25.5 707.5 611.9)" fill="#000"/>
<ellipse cx="740.0" cy="625.3" rx="6.3" ry="4.3" transform="rotate(25.5 740.0 625.3)" fill="#000"/>
<ellipse cx="535.8" cy="633.5" rx="6.3" ry="4.3" transform="rotate(25.5 535.8 633.5)" fill="#000"/>
<ellipse cx="594.4" cy="636.9" rx="6.3" ry="4.3" transform="rotate(25.5 594.4 636.9)" fill="#000"/>
<ellipse cx="714.6" cy="638.7" rx="6.3" ry="4.3" transform="rotate(25.5 714.6 638.7)" fill="#000"/>
<ellipse cx="636.7" cy="645.9" rx="6.3" ry="4.3" transform="rotate(25.5 636.7 645.9)" fill="#000"/>
<ellipse cx="716.1" cy="660.5" rx="6.3" ry="4.3" transform="rotate(25.5 716.1 660.5)" fill="#000"/>
<ellipse cx="566.8" cy="663.2" rx="6.3" ry="4.3" transform="rotate(25.5 566.8 663.2)" fill="#000"/>
<ellipse cx="606.8" cy="665.2" rx="6.3" ry="4.3" transform="rotate(25.5 606.8 665.2)" fill="#000"/>
<ellipse cx="659.3" cy="667.2" rx="6.3" ry="4.3" transform="rotate(25.5 659.3 667.2)" fill="#000"/>
<ellipse cx="698.4" cy="674.1" rx="6.3" ry="4.3" transform="rotate(25.5 698.4 674.1)" fill="#000"/>
<ellipse cx="647.3" cy="690.8" rx="6.3" ry="4.3" transform="rotate(25.5 647.3 690.8)" fill="#000"/>
<ellipse cx="574.8" cy="707.7" rx="6.3" ry="4.3" transform="rotate(25.5 574.8 707.7)" fill="#000"/>
<ellipse cx="556.0" cy="723.5" rx="6.3" ry="4.3" transform="rotate(25.5 556.0 723.5)" fill="#000"/>
<ellipse cx="616.7" cy="716.8" rx="6.3" ry="4.3" transform="rotate(25.5 616.7 716.8)" fill="#000"/>
<ellipse cx="595.9" cy="729.0" rx="6.3" ry="4.3" transform="rotate(25.5 595.9 729.0)" fill="#000"/>
<ellipse cx="644.7" cy="729.2" rx="6.3" ry="4.3" transform="rotate(25.5 644.7 729.2)" fill="#000"/>
<ellipse cx="686.8" cy="721.3" rx="6.3" ry="4.3" transform="rotate(25.5 686.8 721.3)" fill="#000"/>
<ellipse cx="709.2" cy="700.3" rx="6.3" ry="4.3" transform="rotate(25.5 709.2 700.3)" fill="#000"/>
<ellipse cx="745.8" cy="721.5" rx="6.3" ry="4.3" transform="rotate(25.5 745.8 721.5)" fill="#000"/>
<ellipse cx="770.8" cy="715.8" rx="6.3" ry="4.3" transform="rotate(25.5 770.8 715.8)" fill="#000"/>
<ellipse cx="798.1" cy="697.1" rx="6.3" ry="4.3" transform="rotate(25.5 798.1 697.1)" fill="#000"/>
<ellipse cx="832.3" cy="739.0" rx="6.3" ry="4.3" transform="rotate(25.5 832.3 739.0)" fill="#000"/>
<ellipse cx="812.7" cy="749.2" rx="6.3" ry="4.3" transform="rotate(25.5 812.7 749.2)" fill="#000"/>
<ellipse cx="777.7" cy="747.7" rx="6.3" ry="4.3" transform="rotate(25.5 777.7 747.7)" fill="#000"/>
<ellipse cx="763.5" cy="758.7" rx="6.3" ry="4.3" transform="rotate(25.5 763.5 758.7)" fill="#000"/>
<ellipse cx="724.9" cy="754.6" rx="6.3" ry="4.3" transform="rotate(25.5 724.9 754.6)" fill="#000"/>
<ellipse cx="686.4" cy="757.9" rx="6.3" ry="4.3" transform="rotate(25.5 686.4 757.9)" fill="#000"/>
<ellipse cx="709.4" cy="769.9" rx="6.3" ry="4.3" transform="rotate(25.5 709.4 769.9)" fill="#000"/>
<ellipse cx="545.9" cy="751.4" rx="6.3" ry="4.3" transform="rotate(25.5 545.9 751.4)" fill="#000"/>
<ellipse cx="579.4" cy="754.2" rx="6.3" ry="4.3" transform="rotate(25.5 579.4 754.2)" fill="#000"/>
<ellipse cx="651.0" cy="765.6" rx="6.3" ry="4.3" transform="rotate(25.5 651.0 765.6)" fill="#000"/>
<ellipse cx="620.5" cy="777.6" rx="6.3" ry="4.3" transform="rotate(25.5 620.5 777.6)" fill="#000"/>
<ellipse cx="713.9" cy="792.3" rx="6.3" ry="4.3" transform="rotate(25.5 713.9 792.3)" fill="#000"/>
<ellipse cx="799.5" cy="777.8" rx="6.3" ry="4.3" transform="rotate(25.5 799.5 777.8)" fill="#000"/>
<ellipse cx="829.8" cy="784.9" rx="6.3" ry="4.3" transform="rotate(25.5 829.8 784.9)" fill="#000"/>
<ellipse cx="724.0" cy="819.3" rx="6.3" ry="4.3" transform="rotate(25.5 724.0 819.3)" fill="#000"/>
<ellipse cx="698.0" cy="832.1" rx="6.3" ry="4.3" transform="rotate(25.5 698.0 832.1)" fill="#000"/>
<ellipse cx="822.9" cy="816.7" rx="6.3" ry="4.3" transform="rotate(25.5 822.9 816.7)" fill="#000"/>
<ellipse cx="740.1" cy="846.2" rx="6.3" ry="4.3" transform="rotate(25.5 740.1 846.2)" fill="#000"/>
<ellipse cx="766.1" cy="852.1" rx="6.3" ry="4.3" transform="rotate(25.5 766.1 852.1)" fill="#000"/>
<ellipse cx="813.9" cy="849.0" rx="6.3" ry="4.3" transform="rotate(25.5 813.9 849.0)" fill="#000"/>
<ellipse cx="751.3" cy="866.5" rx="6.3" ry="4.3" transform="rotate(25.5 751.3 866.5)" fill="#000"/>
<ellipse cx="778.1" cy="872.0" rx="6.3" ry="4.3" transform="rotate(25.5 778.1 872.0)" fill="#000"/>
<ellipse cx="798.9" cy="862.6" rx="6.3" ry="4.3" transform="rotate(25.5 798.9 862.6)" fill="#000"/>
<ellipse cx="837.9" cy="874.8" rx="6.3" ry="4.3" transform="rotate(25.5 837.9 874.8)" fill="#000"/>
<ellipse cx="801.5" cy="898.6" rx="6.3" ry="4.3" transform="rotate(25.5 801.5 898.6)" fill="#000"/>
<ellipse cx="844.5" cy="709.7" rx="16.9" ry="11.4" transform="rotate(25.5 844.5 709.7)" fill="rgba(170,221,217,0.68)" stroke="rgba(157,208,206,0.9)" stroke-width="1.3" opacity="0.5"/>
<ellipse cx="844.5" cy="709.7" rx="6.3" ry="4.3" transform="rotate(25.5 844.5 709.7)" fill="#777"/>
<ellipse cx="853.6" cy="733.9" rx="16.9" ry="11.4" transform="rotate(25.5 853.6 733.9)" fill="rgba(170,221,217,0.68)" stroke="rgba(157,208,206,0.9)" stroke-width="1.3" opacity="0.5"/>
<ellipse cx="853.6" cy="733.9" rx="6.3" ry="4.3" transform="rotate(25.5 853.6 733.9)" fill="#777"/>
</g>
<g id="cloud2">
<ellipse cx="991.9" cy="530.3" rx="24.8" ry="16.9" transform="rotate(25.5 991.9 530.3)" fill="rgba(170,221,217,0.68)" stroke="rgba(157,208,206,0.9)" stroke-width="1.2"/>
<ellipse cx="991.9" cy="530.3" rx="6.3" ry="4.3" transform="rotate(25.5 991.9 530.3)" fill="#000"/>
<ellipse cx="1012.0" cy="556.8" rx="24.8" ry="16.9" transform="rotate(25.5 1012.0 556.8)" fill="rgba(170,221,217,0.68)" stroke="rgba(157,208,206,0.9)" stroke-width="1.2"/>
<ellipse cx="1012.0" cy="556.8" rx="6.3" ry="4.3" transform="rotate(25.5 1012.0 556.8)" fill="#000"/>
<ellipse cx="1047.6" cy="584.6" rx="24.8" ry="16.9" transform="rotate(25.5 1047.6 584.6)" fill="rgba(170,221,217,0.68)" stroke="rgba(157,208,206,0.9)" stroke-width="1.2"/>
<ellipse cx="1047.6" cy="584.6" rx="6.3" ry="4.3" transform="rotate(25.5 1047.6 584.6)" fill="#000"/>
<ellipse cx="910.7" cy="599.5" rx="24.8" ry="16.9" transform="rotate(25.5 910.7 599.5)" fill="rgba(170,221,217,0.68)" stroke="rgba(157,208,206,0.9)" stroke-width="1.2"/>
<ellipse cx="910.7" cy="599.5" rx="6.3" ry="4.3" transform="rotate(25.5 910.7 599.5)" fill="#000"/>
<ellipse cx="970.5" cy="533.6" rx="24.8" ry="16.9" transform="rotate(25.5 970.5 533.6)" fill="rgba(170,221,217,0.68)" stroke="rgba(157,208,206,0.9)" stroke-width="1.2"/>
<ellipse cx="951.0" cy="549.1" rx="24.8" ry="16.9" transform="rotate(25.5 951.0 549.1)" fill="rgba(170,221,217,0.68)" stroke="rgba(157,208,206,0.9)" stroke-width="1.2"/>
<ellipse cx="989.4" cy="563.9" rx="24.8" ry="16.9" transform="rotate(25.5 989.4 563.9)" fill="rgba(170,221,217,0.68)" stroke="rgba(157,208,206,0.9)" stroke-width="1.2"/>
<ellipse cx="1038.6" cy="564.1" rx="24.8" ry="16.9" transform="rotate(25.5 1038.6 564.1)" fill="rgba(170,221,217,0.68)" stroke="rgba(157,208,206,0.9)" stroke-width="1.2"/>
<ellipse cx="937.6" cy="571.0" rx="24.8" ry="16.9" transform="rotate(25.5 937.6 571.0)" fill="rgba(170,221,217,0.68)" stroke="rgba(157,208,206,0.9)" stroke-width="1.2"/>
<ellipse cx="972.1" cy="575.7" rx="24.8" ry="16.9" transform="rotate(25.5 972.1 575.7)" fill="rgba(170,221,217,0.68)" stroke="rgba(157,208,206,0.9)" stroke-width="1.2"/>
<ellipse cx="1021.4" cy="576.7" rx="24.8" ry="16.9" transform="rotate(25.5 1021.4 576.7)" fill="rgba(170,221,217,0.68)" stroke="rgba(157,208,206,0.9)" stroke-width="1.2"/>
<ellipse cx="882.4" cy="601.3" rx="24.8" ry="16.9" transform="rotate(25.5 882.4 601.3)" fill="rgba(170,221,217,0.68)" stroke="rgba(157,208,206,0.9)" stroke-width="1.2"/>
<ellipse cx="932.9" cy="609.9" rx="24.8" ry="16.9" transform="rotate(25.5 932.9 609.9)" fill="rgba(170,221,217,0.68)" stroke="rgba(157,208,206,0.9)" stroke-width="1.2"/>
<ellipse cx="966.2" cy="612.1" rx="24.8" ry="16.9" transform="rotate(25.5 966.2 612.1)" fill="rgba(170,221,217,0.68)" stroke="rgba(157,208,206,0.9)" stroke-width="1.2"/>
<ellipse cx="1060.6" cy="611.9" rx="24.8" ry="16.9" transform="rotate(25.5 1060.6 611.9)" fill="rgba(170,221,217,0.68)" stroke="rgba(157,208,206,0.9)" stroke-width="1.2"/>
<ellipse cx="1093.1" cy="625.3" rx="24.8" ry="16.9" transform="rotate(25.5 1093.1 625.3)" fill="rgba(170,221,217,0.68)" stroke="rgba(157,208,206,0.9)" stroke-width="1.2"/>
<ellipse cx="888.9" cy="633.5" rx="24.8" ry="16.9" transform="rotate(25.5 888.9 633.5)" fill="rgba(170,221,217,0.68)" stroke="rgba(157,208,206,0.9)" stroke-width="1.2"/>
<ellipse cx="947.5" cy="636.9" rx="24.8" ry="16.9" transform="rotate(25.5 947.5 636.9)" fill="rgba(170,221,217,0.68)" stroke="rgba(157,208,206,0.9)" stroke-width="1.2"/>
<ellipse cx="1067.7" cy="638.7" rx="24.8" ry="16.9" transform="rotate(25.5 1067.7 638.7)" fill="rgba(170,221,217,0.68)" stroke="rgba(157,208,206,0.9)" stroke-width="1.2"/>
<ellipse cx="989.8" cy="645.9" rx="24.8" ry="16.9" transform="rotate(25.5 989.8 645.9)" fill="rgba(170,221,217,0.68)" stroke="rgba(157,208,206,0.9)" stroke-width="1.2"/>
<ellipse cx="1069.2" cy="660.5" rx="24.8" ry="16.9" transform="rotate(25.5 1069.2 660.5)" fill="rgba(170,221,217,0.68)" stroke="rgba(157,208,206,0.9)" stroke-width="1.2"/>
<ellipse cx="919.9" cy="663.2" rx="24.8" ry="16.9" transform="rotate(25.5 919.9 663.2)" fill="rgba(170,221,217,0.68)" stroke="rgba(157,208,206,0.9)" stroke-width="1.2"/>
<ellipse cx="959.9" cy="665.2" rx="24.8" ry="16.9" transform="rotate(25.5 959.9 665.2)" fill="rgba(170,221,217,0.68)" stroke="rgba(157,208,206,0.9)" stroke-width="1.2"/>
<ellipse cx="1012.4" cy="667.2" rx="24.8" ry="16.9" transform="rotate(25.5 1012.4 667.2)" fill="rgba(170,221,217,0.68)" stroke="rgba(157,208,206,0.9)" stroke-width="1.2"/>
<ellipse cx="1051.5" cy="674.1" rx="24.8" ry="16.9" transform="rotate(25.5 1051.5 674.1)" fill="rgba(170,221,217,0.68)" stroke="rgba(157,208,206,0.9)" stroke-width="1.2"/>
<ellipse cx="1000.4" cy="690.8" rx="24.8" ry="16.9" transform="rotate(25.5 1000.4 690.8)" fill="rgba(170,221,217,0.68)" stroke="rgba(157,208,206,0.9)" stroke-width="1.2"/>
<ellipse cx="927.9" cy="707.7" rx="24.8" ry="16.9" transform="rotate(25.5 927.9 707.7)" fill="rgba(170,221,217,0.68)" stroke="rgba(157,208,206,0.9)" stroke-width="1.2"/>
<ellipse cx="909.1" cy="723.5" rx="24.8" ry="16.9" transform="rotate(25.5 909.1 723.5)" fill="rgba(170,221,217,0.68)" stroke="rgba(157,208,206,0.9)" stroke-width="1.2"/>
<ellipse cx="969.8" cy="716.8" rx="24.8" ry="16.9" transform="rotate(25.5 969.8 716.8)" fill="rgba(170,221,217,0.68)" stroke="rgba(157,208,206,0.9)" stroke-width="1.2"/>
<ellipse cx="949.0" cy="729.0" rx="24.8" ry="16.9" transform="rotate(25.5 949.0 729.0)" fill="rgba(170,221,217,0.68)" stroke="rgba(157,208,206,0.9)" stroke-width="1.2"/>
<ellipse cx="997.8" cy="729.2" rx="24.8" ry="16.9" transform="rotate(25.5 997.8 729.2)" fill="rgba(170,221,217,0.68)" stroke="rgba(157,208,206,0.9)" stroke-width="1.2"/>
<ellipse cx="1039.9" cy="721.3" rx="24.8" ry="16.9" transform="rotate(25.5 1039.9 721.3)" fill="rgba(170,221,217,0.68)" stroke="rgba(157,208,206,0.9)" stroke-width="1.2"/>
<ellipse cx="1062.3" cy="700.3" rx="24.8" ry="16.9" transform="rotate(25.5 1062.3 700.3)" fill="rgba(170,221,217,0.68)" stroke="rgba(157,208,206,0.9)" stroke-width="1.2"/>
<ellipse cx="1098.9" cy="721.5" rx="24.8" ry="16.9" transform="rotate(25.5 1098.9 721.5)" fill="rgba(170,221,217,0.68)" stroke="rgba(157,208,206,0.9)" stroke-width="1.2"/>
<ellipse cx="1123.9" cy="715.8" rx="24.8" ry="16.9" transform="rotate(25.5 1123.9 715.8)" fill="rgba(170,221,217,0.68)" stroke="rgba(157,208,206,0.9)" stroke-width="1.2"/>
<ellipse cx="1151.2" cy="697.1" rx="24.8" ry="16.9" transform="rotate(25.5 1151.2 697.1)" fill="rgba(170,221,217,0.68)" stroke="rgba(157,208,206,0.9)" stroke-width="1.2"/>
<ellipse cx="1185.4" cy="739.0" rx="24.8" ry="16.9" transform="rotate(25.5 1185.4 739.0)" fill="rgba(170,221,217,0.68)" stroke="rgba(157,208,206,0.9)" stroke-width="1.2"/>
<ellipse cx="1165.8" cy="749.2" rx="24.8" ry="16.9" transform="rotate(25.5 1165.8 749.2)" fill="rgba(170,221,217,0.68)" stroke="rgba(157,208,206,0.9)" stroke-width="1.2"/>
<ellipse cx="1130.8" cy="747.7" rx="24.8" ry="16.9" transform="rotate(25.5 1130.8 747.7)" fill="rgba(170,221,217,0.68)" stroke="rgba(157,208,206,0.9)" stroke-width="1.2"/>
<ellipse cx="1116.6" cy="758.7" rx="24.8" ry="16.9" transform="rotate(25.5 1116.6 758.7)" fill="rgba(170,221,217,0.68)" stroke="rgba(157,208,206,0.9)" stroke-width="1.2"/>
<ellipse cx="1078.0" cy="754.6" rx="24.8" ry="16.9" transform="rotate(25.5 1078.0 754.6)" fill="rgba(170,221,217,0.68)" stroke="rgba(157,208,206,0.9)" stroke-width="1.2"/>
<ellipse cx="1039.5" cy="757.9" rx="24.8" ry="16.9" transform="rotate(25.5 1039.5 757.9)" fill="rgba(170,221,217,0.68)" stroke="rgba(157,208,206,0.9)" stroke-width="1.2"/>
<ellipse cx="1062.5" cy="769.9" rx="24.8" ry="16.9" transform="rotate(25.5 1062.5 769.9)" fill="rgba(170,221,217,0.68)" stroke="rgba(157,208,206,0.9)" stroke-width="1.2"/>
<ellipse cx="899.0" cy="751.4" rx="24.8" ry="16.9" transform="rotate(25.5 899.0 751.4)" fill="rgba(170,221,217,0.68)" stroke="rgba(157,208,206,0.9)" stroke-width="1.2"/>
<ellipse cx="932.5" cy="754.2" rx="24.8" ry="16.9" transform="rotate(25.5 932.5 754.2)" fill="rgba(170,221,217,0.68)" stroke="rgba(157,208,206,0.9)" stroke-width="1.2"/>
<ellipse cx="1004.1" cy="765.6" rx="24.8" ry="16.9" transform="rotate(25.5 1004.1 765.6)" fill="rgba(170,221,217,0.68)" stroke="rgba(157,208,206,0.9)" stroke-width="1.2"/>
<ellipse cx="973.6" cy="777.6" rx="24.8" ry="16.9" transform="rotate(25.5 973.6 777.6)" fill="rgba(170,221,217,0.68)" stroke="rgba(157,208,206,0.9)" stroke-width="1.2"/>
<ellipse cx="1067.0" cy="792.3" rx="24.8" ry="16.9" transform="rotate(25.5 1067.0 792.3)" fill="rgba(170,221,217,0.68)" stroke="rgba(157,208,206,0.9)" stroke-width="1.2"/>
<ellipse cx="1152.6" cy="777.8" rx="24.8" ry="16.9" transform="rotate(25.5 1152.6 777.8)" fill="rgba(170,221,217,0.68)" stroke="rgba(157,208,206,0.9)" stroke-width="1.2"/>
<ellipse cx="1182.9" cy="784.9" rx="24.8" ry="16.9" transform="rotate(25.5 1182.9 784.9)" fill="rgba(170,221,217,0.68)" stroke="rgba(157,208,206,0.9)" stroke-width="1.2"/>
<ellipse cx="1077.1" cy="819.3" rx="24.8" ry="16.9" transform="rotate(25.5 1077.1 819.3)" fill="rgba(170,221,217,0.68)" stroke="rgba(157,208,206,0.9)" stroke-width="1.2"/>
<ellipse cx="1051.1" cy="832.1" rx="24.8" ry="16.9" transform="rotate(25.5 1051.1 832.1)" fill="rgba(170,221,217,0.68)" stroke="rgba(157,208,206,0.9)" stroke-width="1.2"/>
<ellipse cx="1176.0" cy="816.7" rx="24.8" ry="16.9" transform="rotate(25.5 1176.0 816.7)" fill="rgba(170,221,217,0.68)" stroke="rgba(157,208,206,0.9)" stroke-width="1.2"/>
<ellipse cx="1093.2" cy="846.2" rx="24.8" ry="16.9" transform="rotate(25.5 1093.2 846.2)" fill="rgba(170,221,217,0.68)" stroke="rgba(157,208,206,0.9)" stroke-width="1.2"/>
<ellipse cx="1119.2" cy="852.1" rx="24.8" ry="16.9" transform="rotate(25.5 1119.2 852.1)" fill="rgba(170,221,217,0.68)" stroke="rgba(157,208,206,0.9)" stroke-width="1.2"/>
<ellipse cx="1167.0" cy="849.0" rx="24.8" ry="16.9" transform="rotate(25.5 1167.0 849.0)" fill="rgba(170,221,217,0.68)" stroke="rgba(157,208,206,0.9)" stroke-width="1.2"/>
<ellipse cx="1104.4" cy="866.5" rx="24.8" ry="16.9" transform="rotate(25.5 1104.4 866.5)" fill="rgba(170,221,217,0.68)" stroke="rgba(157,208,206,0.9)" stroke-width="1.2"/>
<ellipse cx="1131.2" cy="872.0" rx="24.8" ry="16.9" transform="rotate(25.5 1131.2 872.0)" fill="rgba(170,221,217,0.68)" stroke="rgba(157,208,206,0.9)" stroke-width="1.2"/>
<ellipse cx="1152.0" cy="862.6" rx="24.8" ry="16.9" transform="rotate(25.5 1152.0 862.6)" fill="rgba(170,221,217,0.68)" stroke="rgba(157,208,206,0.9)" stroke-width="1.2"/>
<ellipse cx="1191.0" cy="874.8" rx="24.8" ry="16.9" transform="rotate(25.5 1191.0 874.8)" fill="rgba(170,221,217,0.68)" stroke="rgba(157,208,206,0.9)" stroke-width="1.2"/>
<ellipse cx="1154.6" cy="898.6" rx="24.8" ry="16.9" transform="rotate(25.5 1154.6 898.6)" fill="rgba(170,221,217,0.68)" stroke="rgba(157,208,206,0.9)" stroke-width="1.2"/>
<ellipse cx="970.5" cy="533.6" rx="6.3" ry="4.3" transform="rotate(25.5 970.5 533.6)" fill="#000"/>
<ellipse cx="951.0" cy="549.1" rx="6.3" ry="4.3" transform="rotate(25.5 951.0 549.1)" fill="#000"/>
<ellipse cx="989.4" cy="563.9" rx="6.3" ry="4.3" transform="rotate(25.5 989.4 563.9)" fill="#000"/>
<ellipse cx="1038.6" cy="564.1" rx="6.3" ry="4.3" transform="rotate(25.5 1038.6 564.1)" fill="#000"/>
<ellipse cx="937.6" cy="571.0" rx="6.3" ry="4.3" transform="rotate(25.5 937.6 571.0)" fill="#000"/>
<ellipse cx="972.1" cy="575.7" rx="6.3" ry="4.3" transform="rotate(25.5 972.1 575.7)" fill="#000"/>
<ellipse cx="1021.4" cy="576.7" rx="6.3" ry="4.3" transform="rotate(25.5 1021.4 576.7)" fill="#000"/>
<ellipse cx="882.4" cy="601.3" rx="6.3" ry="4.3" transform="rotate(25.5 882.4 601.3)" fill="#000"/>
<ellipse cx="932.9" cy="609.9" rx="6.3" ry="4.3" transform="rotate(25.5 932.9 609.9)" fill="#000"/>
<ellipse cx="966.2" cy="612.1" rx="6.3" ry="4.3" transform="rotate(25.5 966.2 612.1)" fill="#000"/>
<ellipse cx="1060.6" cy="611.9" rx="6.3" ry="4.3" transform="rotate(25.5 1060.6 611.9)" fill="#000"/>
<ellipse cx="1093.1" cy="625.3" rx="6.3" ry="4.3" transform="rotate(25.5 1093.1 625.3)" fill="#000"/>
<ellipse cx="888.9" cy="633.5" rx="6.3" ry="4.3" transform="rotate(25.5 888.9 633.5)" fill="#000"/>
<ellipse cx="947.5" cy="636.9" rx="6.3" ry="4.3" transform="rotate(25.5 947.5 636.9)" fill="#000"/>
<ellipse cx="1067.7" cy="638.7" rx="6.3" ry="4.3" transform="rotate(25.5 1067.7 638.7)" fill="#000"/>
<ellipse cx="989.8" cy="645.9" rx="6.3" ry="4.3" transform="rotate(25.5 989.8 645.9)" fill="#000"/>
<ellipse cx="1069.2" cy="660.5" rx="6.3" ry="4.3" transform="rotate(25.5 1069.2 660.5)" fill="#000"/>
<ellipse cx="919.9" cy="663.2" rx="6.3" ry="4.3" transform="rotate(25.5 919.9 663.2)" fill="#000"/>
<ellipse cx="959.9" cy="665.2" rx="6.3" ry="4.3" transform="rotate(25.5 959.9 665.2)" fill="#000"/>
<ellipse cx="1012.4" cy="667.2" rx="6.3" ry="4.3" transform="rotate(25.5 1012.4 667.2)" fill="#000"/>
<ellipse cx="1051.5" cy="674.1" rx="6.3" ry="4.3" transform="rotate(25.5 1051.5 674.1)" fill="#000"/>
<ellipse cx="1000.4" cy="690.8" rx="6.3" ry="4.3" transform="rotate(25.5 1000.4 690.8)" fill="#000"/>
<ellipse cx="927.9" cy="707.7" rx="6.3" ry="4.3" transform="rotate(25.5 927.9 707.7)" fill="#000"/>
<ellipse cx="909.1" cy="723.5" rx="6.3" ry="4.3" transform="rotate(25.5 909.1 723.5)" fill="#000"/>
<ellipse cx="969.8" cy="716.8" rx="6.3" ry="4.3" transform="rotate(25.5 969.8 716.8)" fill="#000"/>
<ellipse cx="949.0" cy="729.0" rx="6.3" ry="4.3" transform="rotate(25.5 949.0 729.0)" fill="#000"/>
<ellipse cx="997.8" cy="729.2" rx="6.3" ry="4.3" transform="rotate(25.5 997.8 729.2)" fill="#000"/>
<ellipse cx="1039.9" cy="721.3" rx="6.3" ry="4.3" transform="rotate(25.5 1039.9 721.3)" fill="#000"/>
<ellipse cx="1062.3" cy="700.3" rx="6.3" ry="4.3" transform="rotate(25.5 1062.3 700.3)" fill="#000"/>
<ellipse cx="1098.9" cy="721.5" rx="6.3" ry="4.3" transform="rotate(25.5 1098.9 721.5)" fill="#000"/>
<ellipse cx="1123.9" cy="715.8" rx="6.3" ry="4.3" transform="rotate(25.5 1123.9 715.8)" fill="#000"/>
<ellipse cx="1151.2" cy="697.1" rx="6.3" ry="4.3" transform="rotate(25.5 1151.2 697.1)" fill="#000"/>
<ellipse cx="1185.4" cy="739.0" rx="6.3" ry="4.3" transform="rotate(25.5 1185.4 739.0)" fill="#000"/>
<ellipse cx="1165.8" cy="749.2" rx="6.3" ry="4.3" transform="rotate(25.5 1165.8 749.2)" fill="#000"/>
<ellipse cx="1130.8" cy="747.7" rx="6.3" ry="4.3" transform="rotate(25.5 1130.8 747.7)" fill="#000"/>
<ellipse cx="1116.6" cy="758.7" rx="6.3" ry="4.3" transform="rotate(25.5 1116.6 758.7)" fill="#000"/>
<ellipse cx="1078.0" cy="754.6" rx="6.3" ry="4.3" transform="rotate(25.5 1078.0 754.6)" fill="#000"/>
<ellipse cx="1039.5" cy="757.9" rx="6.3" ry="4.3" transform="rotate(25.5 1039.5 757.9)" fill="#000"/>
<ellipse cx="1062.5" cy="769.9" rx="6.3" ry="4.3" transform="rotate(25.5 1062.5 769.9)" fill="#000"/>
<ellipse cx="899.0" cy="751.4" rx="6.3" ry="4.3" transform="rotate(25.5 899.0 751.4)" fill="#000"/>
<ellipse cx="932.5" cy="754.2" rx="6.3" ry="4.3" transform="rotate(25.5 932.5 754.2)" fill="#000"/>
<ellipse cx="1004.1" cy="765.6" rx="6.3" ry="4.3" transform="rotate(25.5 1004.1 765.6)" fill="#000"/>
<ellipse cx="973.6" cy="777.6" rx="6.3" ry="4.3" transform="rotate(25.5 973.6 777.6)" fill="#000"/>
<ellipse cx="1067.0" cy="792.3" rx="6.3" ry="4.3" transform="rotate(25.5 1067.0 792.3)" fill="#000"/>
<ellipse cx="1152.6" cy="777.8" rx="6.3" ry="4.3" transform="rotate(25.5 1152.6 777.8)" fill="#000"/>
<ellipse cx="1182.9" cy="784.9" rx="6.3" ry="4.3" transform="rotate(25.5 1182.9 784.9)" fill="#000"/>
<ellipse cx="1077.1" cy="819.3" rx="6.3" ry="4.3" transform="rotate(25.5 1077.1 819.3)" fill="#000"/>
<ellipse cx="1051.1" cy="832.1" rx="6.3" ry="4.3" transform="rotate(25.5 1051.1 832.1)" fill="#000"/>
<ellipse cx="1176.0" cy="816.7" rx="6.3" ry="4.3" transform="rotate(25.5 1176.0 816.7)" fill="#000"/>
<ellipse cx="1093.2" cy="846.2" rx="6.3" ry="4.3" transform="rotate(25.5 1093.2 846.2)" fill="#000"/>
<ellipse cx="1119.2" cy="852.1" rx="6.3" ry="4.3" transform="rotate(25.5 1119.2 852.1)" fill="#000"/>
<ellipse cx="1167.0" cy="849.0" rx="6.3" ry="4.3" transform="rotate(25.5 1167.0 849.0)" fill="#000"/>
<ellipse cx="1104.4" cy="866.5" rx="6.3" ry="4.3" transform="rotate(25.5 1104.4 866.5)" fill="#000"/>
<ellipse cx="1131.2" cy="872.0" rx="6.3" ry="4.3" transform="rotate(25.5 1131.2 872.0)" fill="#000"/>
<ellipse cx="1152.0" cy="862.6" rx="6.3" ry="4.3" transform="rotate(25.5 1152.0 862.6)" fill="#000"/>
<ellipse cx="1191.0" cy="874.8" rx="6.3" ry="4.3" transform="rotate(25.5 1191.0 874.8)" fill="#000"/>
<ellipse cx="1154.6" cy="898.6" rx="6.3" ry="4.3" transform="rotate(25.5 1154.6 898.6)" fill="#000"/>
<ellipse cx="1197.6" cy="709.7" rx="24.8" ry="16.9" transform="rotate(25.5 1197.6 709.7)" fill="rgba(170,221,217,0.68)" stroke="rgba(157,208,206,0.9)" stroke-width="1.2" opacity="0.5"/>
<ellipse cx="1197.6" cy="709.7" rx="6.3" ry="4.3" transform="rotate(25.5 1197.6 709.7)" fill="#777"/>
<ellipse cx="1206.7" cy="733.9" rx="24.8" ry="16.9" transform="rotate(25.5 1206.7 733.9)" fill="rgba(170,221,217,0.68)" stroke="rgba(157,208,206,0.9)" stroke-width="1.2" opacity="0.5"/>
<ellipse cx="1206.7" cy="733.9" rx="6.3" ry="4.3" transform="rotate(25.5 1206.7 733.9)" fill="#777"/>
</g>
<g id="cloud3">
<ellipse cx="1345.0" cy="517.8" rx="33.7" ry="23.0" transform="rotate(25.5 1345.0 517.8)" fill="rgba(170,221,217,0.68)" stroke="rgba(157,208,206,0.9)" stroke-width="1.1"/>
<ellipse cx="1345.0" cy="517.8" rx="6.3" ry="4.3" transform="rotate(25.5 1345.0 517.8)" fill="#000"/>
<ellipse cx="1304.1" cy="536.6" rx="33.7" ry="23.0" transform="rotate(25.5 1304.1 536.6)" fill="rgba(170,221,217,0.68)" stroke="rgba(157,208,206,0.9)" stroke-width="1.1"/>
<ellipse cx="1304.1" cy="536.6" rx="6.3" ry="4.3" transform="rotate(25.5 1304.1 536.6)" fill="#000"/>
<ellipse cx="1365.1" cy="544.3" rx="33.7" ry="23.0" transform="rotate(25.5 1365.1 544.3)" fill="rgba(170,221,217,0.68)" stroke="rgba(157,208,206,0.9)" stroke-width="1.1"/>
<ellipse cx="1365.1" cy="544.3" rx="6.3" ry="4.3" transform="rotate(25.5 1365.1 544.3)" fill="#000"/>
<ellipse cx="1342.5" cy="551.4" rx="33.7" ry="23.0" transform="rotate(25.5 1342.5 551.4)" fill="rgba(170,221,217,0.68)" stroke="rgba(157,208,206,0.9)" stroke-width="1.1"/>
<ellipse cx="1342.5" cy="551.4" rx="6.3" ry="4.3" transform="rotate(25.5 1342.5 551.4)" fill="#000"/>
<ellipse cx="1325.2" cy="563.2" rx="33.7" ry="23.0" transform="rotate(25.5 1325.2 563.2)" fill="rgba(170,221,217,0.68)" stroke="rgba(157,208,206,0.9)" stroke-width="1.1"/>
<ellipse cx="1325.2" cy="563.2" rx="6.3" ry="4.3" transform="rotate(25.5 1325.2 563.2)" fill="#000"/>
<ellipse cx="1374.5" cy="564.2" rx="33.7" ry="23.0" transform="rotate(25.5 1374.5 564.2)" fill="rgba(170,221,217,0.68)" stroke="rgba(157,208,206,0.9)" stroke-width="1.1"/>
<ellipse cx="1374.5" cy="564.2" rx="6.3" ry="4.3" transform="rotate(25.5 1374.5 564.2)" fill="#000"/>
<ellipse cx="1400.7" cy="572.1" rx="33.7" ry="23.0" transform="rotate(25.5 1400.7 572.1)" fill="rgba(170,221,217,0.68)" stroke="rgba(157,208,206,0.9)" stroke-width="1.1"/>
<ellipse cx="1400.7" cy="572.1" rx="6.3" ry="4.3" transform="rotate(25.5 1400.7 572.1)" fill="#000"/>
<ellipse cx="1263.8" cy="587.0" rx="33.7" ry="23.0" transform="rotate(25.5 1263.8 587.0)" fill="rgba(170,221,217,0.68)" stroke="rgba(157,208,206,0.9)" stroke-width="1.1"/>
<ellipse cx="1263.8" cy="587.0" rx="6.3" ry="4.3" transform="rotate(25.5 1263.8 587.0)" fill="#000"/>
<ellipse cx="1286.0" cy="597.4" rx="33.7" ry="23.0" transform="rotate(25.5 1286.0 597.4)" fill="rgba(170,221,217,0.68)" stroke="rgba(157,208,206,0.9)" stroke-width="1.1"/>
<ellipse cx="1286.0" cy="597.4" rx="6.3" ry="4.3" transform="rotate(25.5 1286.0 597.4)" fill="#000"/>
<ellipse cx="1413.7" cy="599.4" rx="33.7" ry="23.0" transform="rotate(25.5 1413.7 599.4)" fill="rgba(170,221,217,0.68)" stroke="rgba(157,208,206,0.9)" stroke-width="1.1"/>
<ellipse cx="1413.7" cy="599.4" rx="6.3" ry="4.3" transform="rotate(25.5 1413.7 599.4)" fill="#000"/>
<ellipse cx="1300.6" cy="624.4" rx="33.7" ry="23.0" transform="rotate(25.5 1300.6 624.4)" fill="rgba(170,221,217,0.68)" stroke="rgba(157,208,206,0.9)" stroke-width="1.1"/>
<ellipse cx="1300.6" cy="624.4" rx="6.3" ry="4.3" transform="rotate(25.5 1300.6 624.4)" fill="#000"/>
<ellipse cx="1422.3" cy="648.0" rx="33.7" ry="23.0" transform="rotate(25.5 1422.3 648.0)" fill="rgba(170,221,217,0.68)" stroke="rgba(157,208,206,0.9)" stroke-width="1.1"/>
<ellipse cx="1422.3" cy="648.0" rx="6.3" ry="4.3" transform="rotate(25.5 1422.3 648.0)" fill="#000"/>
<ellipse cx="1365.5" cy="654.7" rx="33.7" ry="23.0" transform="rotate(25.5 1365.5 654.7)" fill="rgba(170,221,217,0.68)" stroke="rgba(157,208,206,0.9)" stroke-width="1.1"/>
<ellipse cx="1365.5" cy="654.7" rx="6.3" ry="4.3" transform="rotate(25.5 1365.5 654.7)" fill="#000"/>
<ellipse cx="1404.6" cy="661.6" rx="33.7" ry="23.0" transform="rotate(25.5 1404.6 661.6)" fill="rgba(170,221,217,0.68)" stroke="rgba(157,208,206,0.9)" stroke-width="1.1"/>
<ellipse cx="1404.6" cy="661.6" rx="6.3" ry="4.3" transform="rotate(25.5 1404.6 661.6)" fill="#000"/>
<ellipse cx="1322.9" cy="704.3" rx="33.7" ry="23.0" transform="rotate(25.5 1322.9 704.3)" fill="rgba(170,221,217,0.68)" stroke="rgba(157,208,206,0.9)" stroke-width="1.1"/>
<ellipse cx="1322.9" cy="704.3" rx="6.3" ry="4.3" transform="rotate(25.5 1322.9 704.3)" fill="#000"/>
<ellipse cx="1350.9" cy="716.7" rx="33.7" ry="23.0" transform="rotate(25.5 1350.9 716.7)" fill="rgba(170,221,217,0.68)" stroke="rgba(157,208,206,0.9)" stroke-width="1.1"/>
<ellipse cx="1350.9" cy="716.7" rx="6.3" ry="4.3" transform="rotate(25.5 1350.9 716.7)" fill="#000"/>
<ellipse cx="1452.0" cy="709.0" rx="33.7" ry="23.0" transform="rotate(25.5 1452.0 709.0)" fill="rgba(170,221,217,0.68)" stroke="rgba(157,208,206,0.9)" stroke-width="1.1"/>
<ellipse cx="1452.0" cy="709.0" rx="6.3" ry="4.3" transform="rotate(25.5 1452.0 709.0)" fill="#000"/>
<ellipse cx="1518.9" cy="736.7" rx="33.7" ry="23.0" transform="rotate(25.5 1518.9 736.7)" fill="rgba(170,221,217,0.68)" stroke="rgba(157,208,206,0.9)" stroke-width="1.1"/>
<ellipse cx="1518.9" cy="736.7" rx="6.3" ry="4.3" transform="rotate(25.5 1518.9 736.7)" fill="#000"/>
<ellipse cx="1469.7" cy="746.2" rx="33.7" ry="23.0" transform="rotate(25.5 1469.7 746.2)" fill="rgba(170,221,217,0.68)" stroke="rgba(157,208,206,0.9)" stroke-width="1.1"/>
<ellipse cx="1469.7" cy="746.2" rx="6.3" ry="4.3" transform="rotate(25.5 1469.7 746.2)" fill="#000"/>
<ellipse cx="1392.6" cy="745.4" rx="33.7" ry="23.0" transform="rotate(25.5 1392.6 745.4)" fill="rgba(170,221,217,0.68)" stroke="rgba(157,208,206,0.9)" stroke-width="1.1"/>
<ellipse cx="1392.6" cy="745.4" rx="6.3" ry="4.3" transform="rotate(25.5 1392.6 745.4)" fill="#000"/>
<ellipse cx="1415.6" cy="757.4" rx="33.7" ry="23.0" transform="rotate(25.5 1415.6 757.4)" fill="rgba(170,221,217,0.68)" stroke="rgba(157,208,206,0.9)" stroke-width="1.1"/>
<ellipse cx="1415.6" cy="757.4" rx="6.3" ry="4.3" transform="rotate(25.5 1415.6 757.4)" fill="#000"/>
<ellipse cx="1446.3" cy="833.7" rx="33.7" ry="23.0" transform="rotate(25.5 1446.3 833.7)" fill="rgba(170,221,217,0.68)" stroke="rgba(157,208,206,0.9)" stroke-width="1.1"/>
<ellipse cx="1446.3" cy="833.7" rx="6.3" ry="4.3" transform="rotate(25.5 1446.3 833.7)" fill="#000"/>
<ellipse cx="1472.3" cy="839.6" rx="33.7" ry="23.0" transform="rotate(25.5 1472.3 839.6)" fill="rgba(170,221,217,0.68)" stroke="rgba(157,208,206,0.9)" stroke-width="1.1"/>
<ellipse cx="1472.3" cy="839.6" rx="6.3" ry="4.3" transform="rotate(25.5 1472.3 839.6)" fill="#000"/>
<ellipse cx="1484.3" cy="859.5" rx="33.7" ry="23.0" transform="rotate(25.5 1484.3 859.5)" fill="rgba(170,221,217,0.68)" stroke="rgba(157,208,206,0.9)" stroke-width="1.1"/>
<ellipse cx="1484.3" cy="859.5" rx="6.3" ry="4.3" transform="rotate(25.5 1484.3 859.5)" fill="#000"/>
<ellipse cx="1505.1" cy="850.1" rx="33.7" ry="23.0" transform="rotate(25.5 1505.1 850.1)" fill="rgba(170,221,217,0.68)" stroke="rgba(157,208,206,0.9)" stroke-width="1.1"/>
<ellipse cx="1505.1" cy="850.1" rx="6.3" ry="4.3" transform="rotate(25.5 1505.1 850.1)" fill="#000"/>
<ellipse cx="1559.8" cy="721.4" rx="33.7" ry="23.0" transform="rotate(25.5 1559.8 721.4)" fill="rgba(170,221,217,0.68)" stroke="rgba(157,208,206,0.9)" stroke-width="1.1"/>
<ellipse cx="1559.8" cy="721.4" rx="6.3" ry="4.3" transform="rotate(25.5 1559.8 721.4)" fill="#000"/>
<ellipse cx="1323.6" cy="521.1" rx="33.7" ry="23.0" transform="rotate(25.5 1323.6 521.1)" fill="rgba(170,221,217,0.68)" stroke="rgba(157,208,206,0.9)" stroke-width="1.1"/>
<ellipse cx="1391.7" cy="551.6" rx="33.7" ry="23.0" transform="rotate(25.5 1391.7 551.6)" fill="rgba(170,221,217,0.68)" stroke="rgba(157,208,206,0.9)" stroke-width="1.1"/>
<ellipse cx="1290.7" cy="558.5" rx="33.7" ry="23.0" transform="rotate(25.5 1290.7 558.5)" fill="rgba(170,221,217,0.68)" stroke="rgba(157,208,206,0.9)" stroke-width="1.1"/>
<ellipse cx="1235.5" cy="588.8" rx="33.7" ry="23.0" transform="rotate(25.5 1235.5 588.8)" fill="rgba(170,221,217,0.68)" stroke="rgba(157,208,206,0.9)" stroke-width="1.1"/>
<ellipse cx="1319.3" cy="599.6" rx="33.7" ry="23.0" transform="rotate(25.5 1319.3 599.6)" fill="rgba(170,221,217,0.68)" stroke="rgba(157,208,206,0.9)" stroke-width="1.1"/>
<ellipse cx="1446.2" cy="612.8" rx="33.7" ry="23.0" transform="rotate(25.5 1446.2 612.8)" fill="rgba(170,221,217,0.68)" stroke="rgba(157,208,206,0.9)" stroke-width="1.1"/>
<ellipse cx="1242.0" cy="621.0" rx="33.7" ry="23.0" transform="rotate(25.5 1242.0 621.0)" fill="rgba(170,221,217,0.68)" stroke="rgba(157,208,206,0.9)" stroke-width="1.1"/>
<ellipse cx="1420.8" cy="626.2" rx="33.7" ry="23.0" transform="rotate(25.5 1420.8 626.2)" fill="rgba(170,221,217,0.68)" stroke="rgba(157,208,206,0.9)" stroke-width="1.1"/>
<ellipse cx="1342.9" cy="633.4" rx="33.7" ry="23.0" transform="rotate(25.5 1342.9 633.4)" fill="rgba(170,221,217,0.68)" stroke="rgba(157,208,206,0.9)" stroke-width="1.1"/>
<ellipse cx="1273.0" cy="650.7" rx="33.7" ry="23.0" transform="rotate(25.5 1273.0 650.7)" fill="rgba(170,221,217,0.68)" stroke="rgba(157,208,206,0.9)" stroke-width="1.1"/>
<ellipse cx="1313.0" cy="652.7" rx="33.7" ry="23.0" transform="rotate(25.5 1313.0 652.7)" fill="rgba(170,221,217,0.68)" stroke="rgba(157,208,206,0.9)" stroke-width="1.1"/>
<ellipse cx="1353.5" cy="678.3" rx="33.7" ry="23.0" transform="rotate(25.5 1353.5 678.3)" fill="rgba(170,221,217,0.68)" stroke="rgba(157,208,206,0.9)" stroke-width="1.1"/>
<ellipse cx="1281.0" cy="695.2" rx="33.7" ry="23.0" transform="rotate(25.5 1281.0 695.2)" fill="rgba(170,221,217,0.68)" stroke="rgba(157,208,206,0.9)" stroke-width="1.1"/>
<ellipse cx="1262.2" cy="711.0" rx="33.7" ry="23.0" transform="rotate(25.5 1262.2 711.0)" fill="rgba(170,221,217,0.68)" stroke="rgba(157,208,206,0.9)" stroke-width="1.1"/>
<ellipse cx="1302.1" cy="716.5" rx="33.7" ry="23.0" transform="rotate(25.5 1302.1 716.5)" fill="rgba(170,221,217,0.68)" stroke="rgba(157,208,206,0.9)" stroke-width="1.1"/>
<ellipse cx="1393.0" cy="708.8" rx="33.7" ry="23.0" transform="rotate(25.5 1393.0 708.8)" fill="rgba(170,221,217,0.68)" stroke="rgba(157,208,206,0.9)" stroke-width="1.1"/>
<ellipse cx="1415.4" cy="687.8" rx="33.7" ry="23.0" transform="rotate(25.5 1415.4 687.8)" fill="rgba(170,221,217,0.68)" stroke="rgba(157,208,206,0.9)" stroke-width="1.1"/>
<ellipse cx="1477.0" cy="703.3" rx="33.7" ry="23.0" transform="rotate(25.5 1477.0 703.3)" fill="rgba(170,221,217,0.68)" stroke="rgba(157,208,206,0.9)" stroke-width="1.1"/>
<ellipse cx="1504.3" cy="684.6" rx="33.7" ry="23.0" transform="rotate(25.5 1504.3 684.6)" fill="rgba(170,221,217,0.68)" stroke="rgba(157,208,206,0.9)" stroke-width="1.1"/>
<ellipse cx="1538.5" cy="726.5" rx="33.7" ry="23.0" transform="rotate(25.5 1538.5 726.5)" fill="rgba(170,221,217,0.68)" stroke="rgba(157,208,206,0.9)" stroke-width="1.1"/>
<ellipse cx="1483.9" cy="735.2" rx="33.7" ry="23.0" transform="rotate(25.5 1483.9 735.2)" fill="rgba(170,221,217,0.68)" stroke="rgba(157,208,206,0.9)" stroke-width="1.1"/>
<ellipse cx="1431.1" cy="742.1" rx="33.7" ry="23.0" transform="rotate(25.5 1431.1 742.1)" fill="rgba(170,221,217,0.68)" stroke="rgba(157,208,206,0.9)" stroke-width="1.1"/>
<ellipse cx="1252.1" cy="738.9" rx="33.7" ry="23.0" transform="rotate(25.5 1252.1 738.9)" fill="rgba(170,221,217,0.68)" stroke="rgba(157,208,206,0.9)" stroke-width="1.1"/>
<ellipse cx="1285.6" cy="741.7" rx="33.7" ry="23.0" transform="rotate(25.5 1285.6 741.7)" fill="rgba(170,221,217,0.68)" stroke="rgba(157,208,206,0.9)" stroke-width="1.1"/>
<ellipse cx="1357.2" cy="753.1" rx="33.7" ry="23.0" transform="rotate(25.5 1357.2 753.1)" fill="rgba(170,221,217,0.68)" stroke="rgba(157,208,206,0.9)" stroke-width="1.1"/>
<ellipse cx="1326.7" cy="765.1" rx="33.7" ry="23.0" transform="rotate(25.5 1326.7 765.1)" fill="rgba(170,221,217,0.68)" stroke="rgba(157,208,206,0.9)" stroke-width="1.1"/>
<ellipse cx="1420.1" cy="779.8" rx="33.7" ry="23.0" transform="rotate(25.5 1420.1 779.8)" fill="rgba(170,221,217,0.68)" stroke="rgba(157,208,206,0.9)" stroke-width="1.1"/>
<ellipse cx="1505.7" cy="765.3" rx="33.7" ry="23.0" transform="rotate(25.5 1505.7 765.3)" fill="rgba(170,221,217,0.68)" stroke="rgba(157,208,206,0.9)" stroke-width="1.1"/>
<ellipse cx="1536.0" cy="772.4" rx="33.7" ry="23.0" transform="rotate(25.5 1536.0 772.4)" fill="rgba(170,221,217,0.68)" stroke="rgba(157,208,206,0.9)" stroke-width="1.1"/>
<ellipse cx="1430.2" cy="806.8" rx="33.7" ry="23.0" transform="rotate(25.5 1430.2 806.8)" fill="rgba(170,221,217,0.68)" stroke="rgba(157,208,206,0.9)" stroke-width="1.1"/>
<ellipse cx="1404.2" cy="819.6" rx="33.7" ry="23.0" transform="rotate(25.5 1404.2 819.6)" fill="rgba(170,221,217,0.68)" stroke="rgba(157,208,206,0.9)" stroke-width="1.1"/>
<ellipse cx="1529.1" cy="804.2" rx="33.7" ry="23.0" transform="rotate(25.5 1529.1 804.2)" fill="rgba(170,221,217,0.68)" stroke="rgba(157,208,206,0.9)" stroke-width="1.1"/>
<ellipse cx="1520.1" cy="836.5" rx="33.7" ry="23.0" transform="rotate(25.5 1520.1 836.5)" fill="rgba(170,221,217,0.68)" stroke="rgba(157,208,206,0.9)" stroke-width="1.1"/>
<ellipse cx="1457.5" cy="854.0" rx="33.7" ry="23.0" transform="rotate(25.5 1457.5 854.0)" fill="rgba(170,221,217,0.68)" stroke="rgba(157,208,206,0.9)" stroke-width="1.1"/>
<ellipse cx="1544.1" cy="862.3" rx="33.7" ry="23.0" transform="rotate(25.5 1544.1 862.3)" fill="rgba(170,221,217,0.68)" stroke="rgba(157,208,206,0.9)" stroke-width="1.1"/>
<ellipse cx="1507.7" cy="886.1" rx="33.7" ry="23.0" transform="rotate(25.5 1507.7 886.1)" fill="rgba(170,221,217,0.68)" stroke="rgba(157,208,206,0.9)" stroke-width="1.1"/>
<ellipse cx="1550.7" cy="697.2" rx="33.7" ry="23.0" transform="rotate(25.5 1550.7 697.2)" fill="rgba(170,221,217,0.68)" stroke="rgba(157,208,206,0.9)" stroke-width="1.1"/>
<ellipse cx="1323.6" cy="521.1" rx="6.3" ry="4.3" transform="rotate(25.5 1323.6 521.1)" fill="#000"/>
<ellipse cx="1391.7" cy="551.6" rx="6.3" ry="4.3" transform="rotate(25.5 1391.7 551.6)" fill="#000"/>
<ellipse cx="1290.7" cy="558.5" rx="6.3" ry="4.3" transform="rotate(25.5 1290.7 558.5)" fill="#000"/>
<ellipse cx="1235.5" cy="588.8" rx="6.3" ry="4.3" transform="rotate(25.5 1235.5 588.8)" fill="#000"/>
<ellipse cx="1319.3" cy="599.6" rx="6.3" ry="4.3" transform="rotate(25.5 1319.3 599.6)" fill="#000"/>
<ellipse cx="1446.2" cy="612.8" rx="6.3" ry="4.3" transform="rotate(25.5 1446.2 612.8)" fill="#000"/>
<ellipse cx="1242.0" cy="621.0" rx="6.3" ry="4.3" transform="rotate(25.5 1242.0 621.0)" fill="#000"/>
<ellipse cx="1420.8" cy="626.2" rx="6.3" ry="4.3" transform="rotate(25.5 1420.8 626.2)" fill="#000"/>
<ellipse cx="1342.9" cy="633.4" rx="6.3" ry="4.3" transform="rotate(25.5 1342.9 633.4)" fill="#000"/>
<ellipse cx="1273.0" cy="650.7" rx="6.3" ry="4.3" transform="rotate(25.5 1273.0 650.7)" fill="#000"/>
<ellipse cx="1313.0" cy="652.7" rx="6.3" ry="4.3" transform="rotate(25.5 1313.0 652.7)" fill="#000"/>
<ellipse cx="1353.5" cy="678.3" rx="6.3" ry="4.3" transform="rotate(25.5 1353.5 678.3)" fill="#000"/>
<ellipse cx="1281.0" cy="695.2" rx="6.3" ry="4.3" transform="rotate(25.5 1281.0 695.2)" fill="#000"/>
<ellipse cx="1262.2" cy="711.0" rx="6.3" ry="4.3" transform="rotate(25.5 1262.2 711.0)" fill="#000"/>
<ellipse cx="1302.1" cy="716.5" rx="6.3" ry="4.3" transform="rotate(25.5 1302.1 716.5)" fill="#000"/>
<ellipse cx="1393.0" cy="708.8" rx="6.3" ry="4.3" transform="rotate(25.5 1393.0 708.8)" fill="#000"/>
<ellipse cx="1415.4" cy="687.8" rx="6.3" ry="4.3" transform="rotate(25.5 1415.4 687.8)" fill="#000"/>
<ellipse cx="1477.0" cy="703.3" rx="6.3" ry="4.3" transform="rotate(25.5 1477.0 703.3)" fill="#000"/>
<ellipse cx="1504.3" cy="684.6" rx="6.3" ry="4.3" transform="rotate(25.5 1504.3 684.6)" fill="#000"/>
<ellipse cx="1538.5" cy="726.5" rx="6.3" ry="4.3" transform="rotate(25.5 1538.5 726.5)" fill="#000"/>
<ellipse cx="1483.9" cy="735.2" rx="6.3" ry="4.3" transform="rotate(25.5 1483.9 735.2)" fill="#000"/>
<ellipse cx="1431.1" cy="742.1" rx="6.3" ry="4.3" transform="rotate(25.5 1431.1 742.1)" fill="#000"/>
<ellipse cx="1252.1" cy="738.9" rx="6.3" ry="4.3" transform="rotate(25.5 1252.1 738.9)" fill="#000"/>
<ellipse cx="1285.6" cy="741.7" rx="6.3" ry="4.3" transform="rotate(25.5 1285.6 741.7)" fill="#000"/>
<ellipse cx="1357.2" cy="753.1" rx="6.3" ry="4.3" transform="rotate(25.5 1357.2 753.1)" fill="#000"/>
<ellipse cx="1326.7" cy="765.1" rx="6.3" ry="4.3" transform="rotate(25.5 1326.7 765.1)" fill="#000"/>
<ellipse cx="1420.1" cy="779.8" rx="6.3" ry="4.3" transform="rotate(25.5 1420.1 779.8)" fill="#000"/>
<ellipse cx="1505.7" cy="765.3" rx="6.3" ry="4.3" transform="rotate(25.5 1505.7 765.3)" fill="#000"/>
<ellipse cx="1536.0" cy="772.4" rx="6.3" ry="4.3" transform="rotate(25.5 1536.0 772.4)" fill="#000"/>
<ellipse cx="1430.2" cy="806.8" rx="6.3" ry="4.3" transform="rotate(25.5 1430.2 806.8)" fill="#000"/>
<ellipse cx="1404.2" cy="819.6" rx="6.3" ry="4.3" transform="rotate(25.5 1404.2 819.6)" fill="#000"/>
<ellipse cx="1529.1" cy="804.2" rx="6.3" ry="4.3" transform="rotate(25.5 1529.1 804.2)" fill="#000"/>
<ellipse cx="1520.1" cy="836.5" rx="6.3" ry="4.3" transform="rotate(25.5 1520.1 836.5)" fill="#000"/>
<ellipse cx="1457.5" cy="854.0" rx="6.3" ry="4.3" transform="rotate(25.5 1457.5 854.0)" fill="#000"/>
<ellipse cx="1544.1" cy="862.3" rx="6.3" ry="4.3" transform="rotate(25.5 1544.1 862.3)" fill="#000"/>
<ellipse cx="1507.7" cy="886.1" rx="6.3" ry="4.3" transform="rotate(25.5 1507.7 886.1)" fill="#000"/>
<ellipse cx="1550.7" cy="697.2" rx="6.3" ry="4.3" transform="rotate(25.5 1550.7 697.2)" fill="#000"/>
</g>
<rect x="155.6" y="520.1" width="242.6" height="171.1" fill="none" stroke="#fff" stroke-width="13"/>
<rect x="155.6" y="520.1" width="242.6" height="171.1" fill="none" stroke="#000" stroke-width="3.3"/>
<path d="M209.6,403 L172.9,429.4 L184.8,431.6 C179,446 174.5,463 174.2,479 C174,498 178,514 182.1,525.1 C188,541 196,554 203.6,563.6 C198,554 191,537 186.1,521.9 C182.5,508 181.3,496 181.6,485.4 C182,470 186,456 196.7,439.3 L203.6,448 Z" fill="#000"/>
<clipPath id="cp0"><rect x="61.0" y="91.0" width="389.4" height="304.7"/></clipPath>
<g clip-path="url(#cp0)">
<ellipse cx="226.3" cy="115.3" rx="17.0" ry="11.3" transform="rotate(25.5 226.3 115.3)" fill="rgba(170,221,217,0.68)" stroke="rgba(157,208,206,0.9)" stroke-width="2.8"/>
<ellipse cx="259.7" cy="108.9" rx="17.0" ry="11.3" transform="rotate(25.5 259.7 108.9)" fill="rgba(170,221,217,0.68)" stroke="rgba(157,208,206,0.9)" stroke-width="2.8"/>
<ellipse cx="195.6" cy="139.9" rx="17.0" ry="11.3" transform="rotate(25.5 195.6 139.9)" fill="rgba(170,221,217,0.68)" stroke="rgba(157,208,206,0.9)" stroke-width="2.8"/>
<ellipse cx="292.2" cy="151.3" rx="17.0" ry="11.3" transform="rotate(25.5 292.2 151.3)" fill="rgba(170,221,217,0.68)" stroke="rgba(157,208,206,0.9)" stroke-width="2.8"/>
<ellipse cx="257.1" cy="163.0" rx="17.0" ry="11.3" transform="rotate(25.5 257.1 163.0)" fill="rgba(170,221,217,0.68)" stroke="rgba(157,208,206,0.9)" stroke-width="2.8"/>
<ellipse cx="334.6" cy="163.6" rx="17.0" ry="11.3" transform="rotate(25.5 334.6 163.6)" fill="rgba(170,221,217,0.68)" stroke="rgba(157,208,206,0.9)" stroke-width="2.8"/>
<ellipse cx="174.8" cy="174.4" rx="17.0" ry="11.3" transform="rotate(25.5 174.8 174.4)" fill="rgba(170,221,217,0.68)" stroke="rgba(157,208,206,0.9)" stroke-width="2.8"/>
<ellipse cx="229.6" cy="182.3" rx="17.0" ry="11.3" transform="rotate(25.5 229.6 182.3)" fill="rgba(170,221,217,0.68)" stroke="rgba(157,208,206,0.9)" stroke-width="2.8"/>
<ellipse cx="307.7" cy="183.8" rx="17.0" ry="11.3" transform="rotate(25.5 307.7 183.8)" fill="rgba(170,221,217,0.68)" stroke="rgba(157,208,206,0.9)" stroke-width="2.8"/>
<ellipse cx="348.6" cy="196.7" rx="17.0" ry="11.3" transform="rotate(25.5 348.6 196.7)" fill="rgba(170,221,217,0.68)" stroke="rgba(157,208,206,0.9)" stroke-width="2.8"/>
<ellipse cx="87.1" cy="222.1" rx="17.0" ry="11.3" transform="rotate(25.5 87.1 222.1)" fill="rgba(170,221,217,0.68)" stroke="rgba(157,208,206,0.9)" stroke-width="2.8"/>
<ellipse cx="132.1" cy="219.5" rx="17.0" ry="11.3" transform="rotate(25.5 132.1 219.5)" fill="rgba(170,221,217,0.68)" stroke="rgba(157,208,206,0.9)" stroke-width="2.8"/>
<ellipse cx="220.2" cy="239.4" rx="17.0" ry="11.3" transform="rotate(25.5 220.2 239.4)" fill="rgba(170,221,217,0.68)" stroke="rgba(157,208,206,0.9)" stroke-width="2.8"/>
<ellipse cx="368.8" cy="239.1" rx="17.0" ry="11.3" transform="rotate(25.5 368.8 239.1)" fill="rgba(170,221,217,0.68)" stroke="rgba(157,208,206,0.9)" stroke-width="2.8"/>
<ellipse cx="421.8" cy="260.2" rx="17.0" ry="11.3" transform="rotate(25.5 421.8 260.2)" fill="rgba(170,221,217,0.68)" stroke="rgba(157,208,206,0.9)" stroke-width="2.8"/>
<ellipse cx="98.2" cy="273.0" rx="17.0" ry="11.3" transform="rotate(25.5 98.2 273.0)" fill="rgba(170,221,217,0.68)" stroke="rgba(157,208,206,0.9)" stroke-width="2.8"/>
<ellipse cx="190.4" cy="278.0" rx="17.0" ry="11.3" transform="rotate(25.5 190.4 278.0)" fill="rgba(170,221,217,0.68)" stroke="rgba(157,208,206,0.9)" stroke-width="2.8"/>
<ellipse cx="380.5" cy="281.2" rx="17.0" ry="11.3" transform="rotate(25.5 380.5 281.2)" fill="rgba(170,221,217,0.68)" stroke="rgba(157,208,206,0.9)" stroke-width="2.8"/>
<ellipse cx="258.2" cy="292.6" rx="17.0" ry="11.3" transform="rotate(25.5 258.2 292.6)" fill="rgba(170,221,217,0.68)" stroke="rgba(157,208,206,0.9)" stroke-width="2.8"/>
<ellipse cx="382.6" cy="315.8" rx="17.0" ry="11.3" transform="rotate(25.5 382.6 315.8)" fill="rgba(170,221,217,0.68)" stroke="rgba(157,208,206,0.9)" stroke-width="2.8"/>
<ellipse cx="147.0" cy="319.8" rx="17.0" ry="11.3" transform="rotate(25.5 147.0 319.8)" fill="rgba(170,221,217,0.68)" stroke="rgba(157,208,206,0.9)" stroke-width="2.8"/>
<ellipse cx="210.5" cy="323.1" rx="17.0" ry="11.3" transform="rotate(25.5 210.5 323.1)" fill="rgba(170,221,217,0.68)" stroke="rgba(157,208,206,0.9)" stroke-width="2.8"/>
<ellipse cx="292.7" cy="326.3" rx="17.0" ry="11.3" transform="rotate(25.5 292.7 326.3)" fill="rgba(170,221,217,0.68)" stroke="rgba(157,208,206,0.9)" stroke-width="2.8"/>
<ellipse cx="354.8" cy="336.8" rx="17.0" ry="11.3" transform="rotate(25.5 354.8 336.8)" fill="rgba(170,221,217,0.68)" stroke="rgba(157,208,206,0.9)" stroke-width="2.8"/>
<ellipse cx="274.0" cy="363.7" rx="17.0" ry="11.3" transform="rotate(25.5 274.0 363.7)" fill="rgba(170,221,217,0.68)" stroke="rgba(157,208,206,0.9)" stroke-width="2.8"/>
<ellipse cx="371.4" cy="377.8" rx="17.0" ry="11.3" transform="rotate(25.5 371.4 377.8)" fill="rgba(170,221,217,0.68)" stroke="rgba(157,208,206,0.9)" stroke-width="2.8"/>
<ellipse cx="159.3" cy="389.5" rx="17.0" ry="11.3" transform="rotate(25.5 159.3 389.5)" fill="rgba(170,221,217,0.68)" stroke="rgba(157,208,206,0.9)" stroke-width="2.8"/>
<ellipse cx="128.8" cy="415.1" rx="17.0" ry="11.3" transform="rotate(25.5 128.8 415.1)" fill="rgba(170,221,217,0.68)" stroke="rgba(157,208,206,0.9)" stroke-width="2.8"/>
<ellipse cx="225.2" cy="404.5" rx="17.0" ry="11.3" transform="rotate(25.5 225.2 404.5)" fill="rgba(170,221,217,0.68)" stroke="rgba(157,208,206,0.9)" stroke-width="2.8"/>
<ellipse cx="192.2" cy="423.8" rx="17.0" ry="11.3" transform="rotate(25.5 192.2 423.8)" fill="rgba(170,221,217,0.68)" stroke="rgba(157,208,206,0.9)" stroke-width="2.8"/>
<ellipse cx="269.7" cy="424.1" rx="17.0" ry="11.3" transform="rotate(25.5 269.7 424.1)" fill="rgba(170,221,217,0.68)" stroke="rgba(157,208,206,0.9)" stroke-width="2.8"/>
<ellipse cx="336.6" cy="411.6" rx="17.0" ry="11.3" transform="rotate(25.5 336.6 411.6)" fill="rgba(170,221,217,0.68)" stroke="rgba(157,208,206,0.9)" stroke-width="2.8"/>
<ellipse cx="430.3" cy="411.9" rx="17.0" ry="11.3" transform="rotate(25.5 430.3 411.9)" fill="rgba(170,221,217,0.68)" stroke="rgba(157,208,206,0.9)" stroke-width="2.8"/>
<ellipse cx="470.0" cy="402.9" rx="17.0" ry="11.3" transform="rotate(25.5 470.0 402.9)" fill="rgba(170,221,217,0.68)" stroke="rgba(157,208,206,0.9)" stroke-width="2.8"/>
<ellipse cx="513.4" cy="373.4" rx="17.0" ry="11.3" transform="rotate(25.5 513.4 373.4)" fill="rgba(170,221,217,0.68)" stroke="rgba(157,208,206,0.9)" stroke-width="2.8"/>
<ellipse cx="397.1" cy="464.2" rx="17.0" ry="11.3" transform="rotate(25.5 397.1 464.2)" fill="rgba(170,221,217,0.68)" stroke="rgba(157,208,206,0.9)" stroke-width="2.8"/>
<ellipse cx="335.9" cy="469.4" rx="17.0" ry="11.3" transform="rotate(25.5 335.9 469.4)" fill="rgba(170,221,217,0.68)" stroke="rgba(157,208,206,0.9)" stroke-width="2.8"/>
<ellipse cx="481.0" cy="453.3" rx="17.0" ry="11.3" transform="rotate(25.5 481.0 453.3)" fill="rgba(170,221,217,0.68)" stroke="rgba(157,208,206,0.9)" stroke-width="2.8"/>
<ellipse cx="112.8" cy="459.2" rx="17.0" ry="11.3" transform="rotate(25.5 112.8 459.2)" fill="rgba(170,221,217,0.68)" stroke="rgba(157,208,206,0.9)" stroke-width="2.8"/>
<ellipse cx="166.0" cy="463.6" rx="17.0" ry="11.3" transform="rotate(25.5 166.0 463.6)" fill="rgba(170,221,217,0.68)" stroke="rgba(157,208,206,0.9)" stroke-width="2.8"/>
<ellipse cx="458.4" cy="470.7" rx="17.0" ry="11.3" transform="rotate(25.5 458.4 470.7)" fill="rgba(170,221,217,0.68)" stroke="rgba(157,208,206,0.9)" stroke-width="2.8"/>
<ellipse cx="333.6" cy="257.8" rx="17.7" ry="12.0" transform="rotate(25.5 333.6 257.8)" fill="rgba(170,221,217,0.68)" stroke="rgba(157,208,206,0.9)" stroke-width="2.8"/>
<ellipse cx="333.6" cy="257.8" rx="10.0" ry="6.8" transform="rotate(25.5 333.6 257.8)" fill="#000"/>
<ellipse cx="75.1" cy="223.1" rx="7" ry="5.5" transform="rotate(25.5 75.1 223.1)" fill="rgba(170,221,217,0.68)" stroke="rgba(157,208,206,0.9)" stroke-width="1.5"/>
<g stroke="#000" stroke-width="3.3" stroke-linecap="round">
</g>
<ellipse cx="226.3" cy="115.3" rx="10.0" ry="6.8" transform="rotate(25.5 226.3 115.3)" fill="#000"/>
<ellipse cx="259.7" cy="108.9" rx="10.0" ry="6.8" transform="rotate(25.5 259.7 108.9)" fill="#000"/>
<ellipse cx="195.6" cy="139.9" rx="10.0" ry="6.8" transform="rotate(25.5 195.6 139.9)" fill="#000"/>
<ellipse cx="292.2" cy="151.3" rx="10.0" ry="6.8" transform="rotate(25.5 292.2 151.3)" fill="#000"/>
<ellipse cx="257.1" cy="163.0" rx="10.0" ry="6.8" transform="rotate(25.5 257.1 163.0)" fill="#000"/>
<ellipse cx="334.6" cy="163.6" rx="10.0" ry="6.8" transform="rotate(25.5 334.6 163.6)" fill="#000"/>
<ellipse cx="174.8" cy="174.4" rx="10.0" ry="6.8" transform="rotate(25.5 174.8 174.4)" fill="#000"/>
<ellipse cx="229.6" cy="182.3" rx="10.0" ry="6.8" transform="rotate(25.5 229.6 182.3)" fill="#000"/>
<ellipse cx="307.7" cy="183.8" rx="10.0" ry="6.8" transform="rotate(25.5 307.7 183.8)" fill="#000"/>
<ellipse cx="348.6" cy="196.7" rx="10.0" ry="6.8" transform="rotate(25.5 348.6 196.7)" fill="#000"/>
<ellipse cx="87.1" cy="222.1" rx="10.0" ry="6.8" transform="rotate(25.5 87.1 222.1)" fill="#000"/>
<ellipse cx="132.1" cy="219.5" rx="10.0" ry="6.8" transform="rotate(25.5 132.1 219.5)" fill="#000"/>
<ellipse cx="220.2" cy="239.4" rx="10.0" ry="6.8" transform="rotate(25.5 220.2 239.4)" fill="#000"/>
<ellipse cx="368.8" cy="239.1" rx="10.0" ry="6.8" transform="rotate(25.5 368.8 239.1)" fill="#000"/>
<ellipse cx="421.8" cy="260.2" rx="10.0" ry="6.8" transform="rotate(25.5 421.8 260.2)" fill="#000"/>
<ellipse cx="98.2" cy="273.0" rx="10.0" ry="6.8" transform="rotate(25.5 98.2 273.0)" fill="#000"/>
<ellipse cx="190.4" cy="278.0" rx="10.0" ry="6.8" transform="rotate(25.5 190.4 278.0)" fill="#000"/>
<ellipse cx="380.5" cy="281.2" rx="10.0" ry="6.8" transform="rotate(25.5 380.5 281.2)" fill="#000"/>
<ellipse cx="258.2" cy="292.6" rx="10.0" ry="6.8" transform="rotate(25.5 258.2 292.6)" fill="#000"/>
<ellipse cx="382.6" cy="315.8" rx="10.0" ry="6.8" transform="rotate(25.5 382.6 315.8)" fill="#000"/>
<ellipse cx="147.0" cy="319.8" rx="10.0" ry="6.8" transform="rotate(25.5 147.0 319.8)" fill="#000"/>
<ellipse cx="210.5" cy="323.1" rx="10.0" ry="6.8" transform="rotate(25.5 210.5 323.1)" fill="#000"/>
<ellipse cx="292.7" cy="326.3" rx="10.0" ry="6.8" transform="rotate(25.5 292.7 326.3)" fill="#000"/>
<ellipse cx="354.8" cy="336.8" rx="10.0" ry="6.8" transform="rotate(25.5 354.8 336.8)" fill="#000"/>
<ellipse cx="274.0" cy="363.7" rx="10.0" ry="6.8" transform="rotate(25.5 274.0 363.7)" fill="#000"/>
<ellipse cx="371.4" cy="377.8" rx="10.0" ry="6.8" transform="rotate(25.5 371.4 377.8)" fill="#000"/>
<ellipse cx="159.3" cy="389.5" rx="10.0" ry="6.8" transform="rotate(25.5 159.3 389.5)" fill="#000"/>
<ellipse cx="128.8" cy="415.1" rx="10.0" ry="6.8" transform="rotate(25.5 128.8 415.1)" fill="#000"/>
<ellipse cx="225.2" cy="404.5" rx="10.0" ry="6.8" transform="rotate(25.5 225.2 404.5)" fill="#000"/>
<ellipse cx="192.2" cy="423.8" rx="10.0" ry="6.8" transform="rotate(25.5 192.2 423.8)" fill="#000"/>
<ellipse cx="269.7" cy="424.1" rx="10.0" ry="6.8" transform="rotate(25.5 269.7 424.1)" fill="#000"/>
<ellipse cx="336.6" cy="411.6" rx="10.0" ry="6.8" transform="rotate(25.5 336.6 411.6)" fill="#000"/>
<ellipse cx="430.3" cy="411.9" rx="10.0" ry="6.8" transform="rotate(25.5 430.3 411.9)" fill="#000"/>
<ellipse cx="470.0" cy="402.9" rx="10.0" ry="6.8" transform="rotate(25.5 470.0 402.9)" fill="#000"/>
<ellipse cx="513.4" cy="373.4" rx="10.0" ry="6.8" transform="rotate(25.5 513.4 373.4)" fill="#000"/>
<ellipse cx="397.1" cy="464.2" rx="10.0" ry="6.8" transform="rotate(25.5 397.1 464.2)" fill="#000"/>
<ellipse cx="335.9" cy="469.4" rx="10.0" ry="6.8" transform="rotate(25.5 335.9 469.4)" fill="#000"/>
<ellipse cx="481.0" cy="453.3" rx="10.0" ry="6.8" transform="rotate(25.5 481.0 453.3)" fill="#000"/>
<ellipse cx="112.8" cy="459.2" rx="10.0" ry="6.8" transform="rotate(25.5 112.8 459.2)" fill="#000"/>
<ellipse cx="166.0" cy="463.6" rx="10.0" ry="6.8" transform="rotate(25.5 166.0 463.6)" fill="#000"/>
<ellipse cx="458.4" cy="470.7" rx="10.0" ry="6.8" transform="rotate(25.5 458.4 470.7)" fill="#000"/>
</g>
<rect x="61.0" y="91.0" width="389.4" height="304.7" fill="none" stroke="#1a1a1a" stroke-width="1.8"/>
<clipPath id="cp1"><rect x="479.6" y="91.0" width="389.4" height="304.7"/></clipPath>
<g clip-path="url(#cp1)">
<ellipse cx="644.6" cy="115.3" rx="26.4" ry="17.9" transform="rotate(25.5 644.6 115.3)" fill="rgba(170,221,217,0.68)" stroke="rgba(157,208,206,0.9)" stroke-width="2.5"/>
<ellipse cx="678.0" cy="108.9" rx="26.4" ry="17.9" transform="rotate(25.5 678.0 108.9)" fill="rgba(170,221,217,0.68)" stroke="rgba(157,208,206,0.9)" stroke-width="2.5"/>
<ellipse cx="613.9" cy="139.9" rx="26.4" ry="17.9" transform="rotate(25.5 613.9 139.9)" fill="rgba(170,221,217,0.68)" stroke="rgba(157,208,206,0.9)" stroke-width="2.5"/>
<ellipse cx="710.5" cy="151.3" rx="26.4" ry="17.9" transform="rotate(25.5 710.5 151.3)" fill="rgba(170,221,217,0.68)" stroke="rgba(157,208,206,0.9)" stroke-width="2.5"/>
<ellipse cx="675.4" cy="163.0" rx="26.4" ry="17.9" transform="rotate(25.5 675.4 163.0)" fill="rgba(170,221,217,0.68)" stroke="rgba(157,208,206,0.9)" stroke-width="2.5"/>
<ellipse cx="752.9" cy="163.6" rx="26.4" ry="17.9" transform="rotate(25.5 752.9 163.6)" fill="rgba(170,221,217,0.68)" stroke="rgba(157,208,206,0.9)" stroke-width="2.5"/>
<ellipse cx="593.1" cy="174.4" rx="26.4" ry="17.9" transform="rotate(25.5 593.1 174.4)" fill="rgba(170,221,217,0.68)" stroke="rgba(157,208,206,0.9)" stroke-width="2.5"/>
<ellipse cx="647.9" cy="182.3" rx="26.4" ry="17.9" transform="rotate(25.5 647.9 182.3)" fill="rgba(170,221,217,0.68)" stroke="rgba(157,208,206,0.9)" stroke-width="2.5"/>
<ellipse cx="726.0" cy="183.8" rx="26.4" ry="17.9" transform="rotate(25.5 726.0 183.8)" fill="rgba(170,221,217,0.68)" stroke="rgba(157,208,206,0.9)" stroke-width="2.5"/>
<ellipse cx="766.9" cy="196.7" rx="26.4" ry="17.9" transform="rotate(25.5 766.9 196.7)" fill="rgba(170,221,217,0.68)" stroke="rgba(157,208,206,0.9)" stroke-width="2.5"/>
<ellipse cx="505.4" cy="222.1" rx="26.4" ry="17.9" transform="rotate(25.5 505.4 222.1)" fill="rgba(170,221,217,0.68)" stroke="rgba(157,208,206,0.9)" stroke-width="2.5"/>
<ellipse cx="550.4" cy="219.5" rx="26.4" ry="17.9" transform="rotate(25.5 550.4 219.5)" fill="rgba(170,221,217,0.68)" stroke="rgba(157,208,206,0.9)" stroke-width="2.5"/>
<ellipse cx="585.8" cy="236.2" rx="26.4" ry="17.9" transform="rotate(25.5 585.8 236.2)" fill="rgba(170,221,217,0.68)" stroke="rgba(157,208,206,0.9)" stroke-width="2.5"/>
<ellipse cx="638.5" cy="239.4" rx="26.4" ry="17.9" transform="rotate(25.5 638.5 239.4)" fill="rgba(170,221,217,0.68)" stroke="rgba(157,208,206,0.9)" stroke-width="2.5"/>
<ellipse cx="787.1" cy="239.1" rx="26.4" ry="17.9" transform="rotate(25.5 787.1 239.1)" fill="rgba(170,221,217,0.68)" stroke="rgba(157,208,206,0.9)" stroke-width="2.5"/>
<ellipse cx="840.1" cy="260.2" rx="26.4" ry="17.9" transform="rotate(25.5 840.1 260.2)" fill="rgba(170,221,217,0.68)" stroke="rgba(157,208,206,0.9)" stroke-width="2.5"/>
<ellipse cx="516.5" cy="273.0" rx="26.4" ry="17.9" transform="rotate(25.5 516.5 273.0)" fill="rgba(170,221,217,0.68)" stroke="rgba(157,208,206,0.9)" stroke-width="2.5"/>
<ellipse cx="608.7" cy="278.0" rx="26.4" ry="17.9" transform="rotate(25.5 608.7 278.0)" fill="rgba(170,221,217,0.68)" stroke="rgba(157,208,206,0.9)" stroke-width="2.5"/>
<ellipse cx="798.8" cy="281.2" rx="26.4" ry="17.9" transform="rotate(25.5 798.8 281.2)" fill="rgba(170,221,217,0.68)" stroke="rgba(157,208,206,0.9)" stroke-width="2.5"/>
<ellipse cx="676.5" cy="292.6" rx="26.4" ry="17.9" transform="rotate(25.5 676.5 292.6)" fill="rgba(170,221,217,0.68)" stroke="rgba(157,208,206,0.9)" stroke-width="2.5"/>
<ellipse cx="800.9" cy="315.8" rx="26.4" ry="17.9" transform="rotate(25.5 800.9 315.8)" fill="rgba(170,221,217,0.68)" stroke="rgba(157,208,206,0.9)" stroke-width="2.5"/>
<ellipse cx="565.3" cy="319.8" rx="26.4" ry="17.9" transform="rotate(25.5 565.3 319.8)" fill="rgba(170,221,217,0.68)" stroke="rgba(157,208,206,0.9)" stroke-width="2.5"/>
<ellipse cx="628.8" cy="323.1" rx="26.4" ry="17.9" transform="rotate(25.5 628.8 323.1)" fill="rgba(170,221,217,0.68)" stroke="rgba(157,208,206,0.9)" stroke-width="2.5"/>
<ellipse cx="711.0" cy="326.3" rx="26.4" ry="17.9" transform="rotate(25.5 711.0 326.3)" fill="rgba(170,221,217,0.68)" stroke="rgba(157,208,206,0.9)" stroke-width="2.5"/>
<ellipse cx="773.1" cy="336.8" rx="26.4" ry="17.9" transform="rotate(25.5 773.1 336.8)" fill="rgba(170,221,217,0.68)" stroke="rgba(157,208,206,0.9)" stroke-width="2.5"/>
<ellipse cx="692.3" cy="363.7" rx="26.4" ry="17.9" transform="rotate(25.5 692.3 363.7)" fill="rgba(170,221,217,0.68)" stroke="rgba(157,208,206,0.9)" stroke-width="2.5"/>
<ellipse cx="789.7" cy="377.8" rx="26.4" ry="17.9" transform="rotate(25.5 789.7 377.8)" fill="rgba(170,221,217,0.68)" stroke="rgba(157,208,206,0.9)" stroke-width="2.5"/>
<ellipse cx="577.6" cy="389.5" rx="26.4" ry="17.9" transform="rotate(25.5 577.6 389.5)" fill="rgba(170,221,217,0.68)" stroke="rgba(157,208,206,0.9)" stroke-width="2.5"/>
<ellipse cx="547.1" cy="415.1" rx="26.4" ry="17.9" transform="rotate(25.5 547.1 415.1)" fill="rgba(170,221,217,0.68)" stroke="rgba(157,208,206,0.9)" stroke-width="2.5"/>
<ellipse cx="643.5" cy="404.5" rx="26.4" ry="17.9" transform="rotate(25.5 643.5 404.5)" fill="rgba(170,221,217,0.68)" stroke="rgba(157,208,206,0.9)" stroke-width="2.5"/>
<ellipse cx="610.5" cy="423.8" rx="26.4" ry="17.9" transform="rotate(25.5 610.5 423.8)" fill="rgba(170,221,217,0.68)" stroke="rgba(157,208,206,0.9)" stroke-width="2.5"/>
<ellipse cx="688.0" cy="424.1" rx="26.4" ry="17.9" transform="rotate(25.5 688.0 424.1)" fill="rgba(170,221,217,0.68)" stroke="rgba(157,208,206,0.9)" stroke-width="2.5"/>
<ellipse cx="754.9" cy="411.6" rx="26.4" ry="17.9" transform="rotate(25.5 754.9 411.6)" fill="rgba(170,221,217,0.68)" stroke="rgba(157,208,206,0.9)" stroke-width="2.5"/>
<ellipse cx="848.6" cy="411.9" rx="26.4" ry="17.9" transform="rotate(25.5 848.6 411.9)" fill="rgba(170,221,217,0.68)" stroke="rgba(157,208,206,0.9)" stroke-width="2.5"/>
<ellipse cx="888.3" cy="402.9" rx="26.4" ry="17.9" transform="rotate(25.5 888.3 402.9)" fill="rgba(170,221,217,0.68)" stroke="rgba(157,208,206,0.9)" stroke-width="2.5"/>
<ellipse cx="931.7" cy="373.4" rx="26.4" ry="17.9" transform="rotate(25.5 931.7 373.4)" fill="rgba(170,221,217,0.68)" stroke="rgba(157,208,206,0.9)" stroke-width="2.5"/>
<ellipse cx="815.4" cy="464.2" rx="26.4" ry="17.9" transform="rotate(25.5 815.4 464.2)" fill="rgba(170,221,217,0.68)" stroke="rgba(157,208,206,0.9)" stroke-width="2.5"/>
<ellipse cx="754.2" cy="469.4" rx="26.4" ry="17.9" transform="rotate(25.5 754.2 469.4)" fill="rgba(170,221,217,0.68)" stroke="rgba(157,208,206,0.9)" stroke-width="2.5"/>
<ellipse cx="899.3" cy="453.3" rx="26.4" ry="17.9" transform="rotate(25.5 899.3 453.3)" fill="rgba(170,221,217,0.68)" stroke="rgba(157,208,206,0.9)" stroke-width="2.5"/>
<ellipse cx="531.1" cy="459.2" rx="26.4" ry="17.9" transform="rotate(25.5 531.1 459.2)" fill="rgba(170,221,217,0.68)" stroke="rgba(157,208,206,0.9)" stroke-width="2.5"/>
<ellipse cx="584.3" cy="463.6" rx="26.4" ry="17.9" transform="rotate(25.5 584.3 463.6)" fill="rgba(170,221,217,0.68)" stroke="rgba(157,208,206,0.9)" stroke-width="2.5"/>
<ellipse cx="876.7" cy="470.7" rx="26.4" ry="17.9" transform="rotate(25.5 876.7 470.7)" fill="rgba(170,221,217,0.68)" stroke="rgba(157,208,206,0.9)" stroke-width="2.5"/>
<polygon points="675.4,163.0 710.5,151.3 726.0,183.8" fill="#68a5a0"/>
<polygon points="710.5,151.3 752.9,163.6 726.0,183.8" fill="#68a5a0"/>
<polygon points="752.9,163.6 726.0,183.8 766.9,196.7" fill="#68a5a0"/>
<g stroke="#000" stroke-width="3.3" stroke-linecap="round">
<line x1="644.6" y1="115.3" x2="678.0" y2="108.9"/>
<line x1="675.4" y1="163.0" x2="647.9" y2="182.3"/>
<line x1="675.4" y1="163.0" x2="710.5" y2="151.3"/>
<line x1="710.5" y1="151.3" x2="752.9" y2="163.6"/>
<line x1="710.5" y1="151.3" x2="726.0" y2="183.8"/>
<line x1="675.4" y1="163.0" x2="726.0" y2="183.8"/>
<line x1="726.0" y1="183.8" x2="752.9" y2="163.6"/>
<line x1="752.9" y1="163.6" x2="766.9" y2="196.7"/>
<line x1="726.0" y1="183.8" x2="766.9" y2="196.7"/>
<line x1="505.4" y1="222.1" x2="550.4" y2="219.5"/>
<line x1="550.4" y1="219.5" x2="585.8" y2="236.2"/>
<line x1="676.5" y1="292.6" x2="711.0" y2="326.3"/>
<line x1="798.8" y1="281.2" x2="800.9" y2="315.8"/>
<line x1="800.9" y1="315.8" x2="773.1" y2="336.8"/>
<line x1="773.1" y1="336.8" x2="789.7" y2="377.8"/>
</g>
<ellipse cx="644.6" cy="115.3" rx="10.0" ry="6.8" transform="rotate(25.5 644.6 115.3)" fill="#000"/>
<ellipse cx="678.0" cy="108.9" rx="10.0" ry="6.8" transform="rotate(25.5 678.0 108.9)" fill="#000"/>
<ellipse cx="613.9" cy="139.9" rx="10.0" ry="6.8" transform="rotate(25.5 613.9 139.9)" fill="#000"/>
<ellipse cx="710.5" cy="151.3" rx="10.0" ry="6.8" transform="rotate(25.5 710.5 151.3)" fill="#000"/>
<ellipse cx="675.4" cy="163.0" rx="10.0" ry="6.8" transform="rotate(25.5 675.4 163.0)" fill="#000"/>
<ellipse cx="752.9" cy="163.6" rx="10.0" ry="6.8" transform="rotate(25.5 752.9 163.6)" fill="#000"/>
<ellipse cx="593.1" cy="174.4" rx="10.0" ry="6.8" transform="rotate(25.5 593.1 174.4)" fill="#000"/>
<ellipse cx="647.9" cy="182.3" rx="10.0" ry="6.8" transform="rotate(25.5 647.9 182.3)" fill="#000"/>
<ellipse cx="726.0" cy="183.8" rx="10.0" ry="6.8" transform="rotate(25.5 726.0 183.8)" fill="#000"/>
<ellipse cx="766.9" cy="196.7" rx="10.0" ry="6.8" transform="rotate(25.5 766.9 196.7)" fill="#000"/>
<ellipse cx="505.4" cy="222.1" rx="10.0" ry="6.8" transform="rotate(25.5 505.4 222.1)" fill="#000"/>
<ellipse cx="550.4" cy="219.5" rx="10.0" ry="6.8" transform="rotate(25.5 550.4 219.5)" fill="#000"/>
<ellipse cx="585.8" cy="236.2" rx="10.0" ry="6.8" transform="rotate(25.5 585.8 236.2)" fill="#000"/>
<ellipse cx="638.5" cy="239.4" rx="10.0" ry="6.8" transform="rotate(25.5 638.5 239.4)" fill="#000"/>
<ellipse cx="787.1" cy="239.1" rx="10.0" ry="6.8" transform="rotate(25.5 787.1 239.1)" fill="#000"/>
<ellipse cx="840.1" cy="260.2" rx="10.0" ry="6.8" transform="rotate(25.5 840.1 260.2)" fill="#000"/>
<ellipse cx="516.5" cy="273.0" rx="10.0" ry="6.8" transform="rotate(25.5 516.5 273.0)" fill="#000"/>
<ellipse cx="608.7" cy="278.0" rx="10.0" ry="6.8" transform="rotate(25.5 608.7 278.0)" fill="#000"/>
<ellipse cx="798.8" cy="281.2" rx="10.0" ry="6.8" transform="rotate(25.5 798.8 281.2)" fill="#000"/>
<ellipse cx="676.5" cy="292.6" rx="10.0" ry="6.8" transform="rotate(25.5 676.5 292.6)" fill="#000"/>
<ellipse cx="800.9" cy="315.8" rx="10.0" ry="6.8" transform="rotate(25.5 800.9 315.8)" fill="#000"/>
<ellipse cx="565.3" cy="319.8" rx="10.0" ry="6.8" transform="rotate(25.5 565.3 319.8)" fill="#000"/>
<ellipse cx="628.8" cy="323.1" rx="10.0" ry="6.8" transform="rotate(25.5 628.8 323.1)" fill="#000"/>
<ellipse cx="711.0" cy="326.3" rx="10.0" ry="6.8" transform="rotate(25.5 711.0 326.3)" fill="#000"/>
<ellipse cx="773.1" cy="336.8" rx="10.0" ry="6.8" transform="rotate(25.5 773.1 336.8)" fill="#000"/>
<ellipse cx="692.3" cy="363.7" rx="10.0" ry="6.8" transform="rotate(25.5 692.3 363.7)" fill="#000"/>
<ellipse cx="789.7" cy="377.8" rx="10.0" ry="6.8" transform="rotate(25.5 789.7 377.8)" fill="#000"/>
<ellipse cx="577.6" cy="389.5" rx="10.0" ry="6.8" transform="rotate(25.5 577.6 389.5)" fill="#000"/>
<ellipse cx="547.1" cy="415.1" rx="10.0" ry="6.8" transform="rotate(25.5 547.1 415.1)" fill="#000"/>
<ellipse cx="643.5" cy="404.5" rx="10.0" ry="6.8" transform="rotate(25.5 643.5 404.5)" fill="#000"/>
<ellipse cx="610.5" cy="423.8" rx="10.0" ry="6.8" transform="rotate(25.5 610.5 423.8)" fill="#000"/>
<ellipse cx="688.0" cy="424.1" rx="10.0" ry="6.8" transform="rotate(25.5 688.0 424.1)" fill="#000"/>
<ellipse cx="754.9" cy="411.6" rx="10.0" ry="6.8" transform="rotate(25.5 754.9 411.6)" fill="#000"/>
<ellipse cx="848.6" cy="411.9" rx="10.0" ry="6.8" transform="rotate(25.5 848.6 411.9)" fill="#000"/>
<ellipse cx="888.3" cy="402.9" rx="10.0" ry="6.8" transform="rotate(25.5 888.3 402.9)" fill="#000"/>
<ellipse cx="931.7" cy="373.4" rx="10.0" ry="6.8" transform="rotate(25.5 931.7 373.4)" fill="#000"/>
<ellipse cx="815.4" cy="464.2" rx="10.0" ry="6.8" transform="rotate(25.5 815.4 464.2)" fill="#000"/>
<ellipse cx="754.2" cy="469.4" rx="10.0" ry="6.8" transform="rotate(25.5 754.2 469.4)" fill="#000"/>
<ellipse cx="899.3" cy="453.3" rx="10.0" ry="6.8" transform="rotate(25.5 899.3 453.3)" fill="#000"/>
<ellipse cx="531.1" cy="459.2" rx="10.0" ry="6.8" transform="rotate(25.5 531.1 459.2)" fill="#000"/>
<ellipse cx="584.3" cy="463.6" rx="10.0" ry="6.8" transform="rotate(25.5 584.3 463.6)" fill="#000"/>
<ellipse cx="876.7" cy="470.7" rx="10.0" ry="6.8" transform="rotate(25.5 876.7 470.7)" fill="#000"/>
</g>
<rect x="479.6" y="91.0" width="389.4" height="304.7" fill="none" stroke="#1a1a1a" stroke-width="1.8"/>
<clipPath id="cp2"><rect x="898.1" y="91.0" width="389.4" height="304.7"/></clipPath>
<g clip-path="url(#cp2)">
<ellipse cx="1063.1" cy="115.3" rx="40.5" ry="26.8" transform="rotate(25.5 1063.1 115.3)" fill="rgba(170,221,217,0.68)" stroke="rgba(157,208,206,0.9)" stroke-width="2.1"/>
<ellipse cx="1096.5" cy="108.9" rx="40.5" ry="26.8" transform="rotate(25.5 1096.5 108.9)" fill="rgba(170,221,217,0.68)" stroke="rgba(157,208,206,0.9)" stroke-width="2.1"/>
<ellipse cx="1032.4" cy="139.9" rx="40.5" ry="26.8" transform="rotate(25.5 1032.4 139.9)" fill="rgba(170,221,217,0.68)" stroke="rgba(157,208,206,0.9)" stroke-width="2.1"/>
<ellipse cx="1129.0" cy="151.3" rx="40.5" ry="26.8" transform="rotate(25.5 1129.0 151.3)" fill="rgba(170,221,217,0.68)" stroke="rgba(157,208,206,0.9)" stroke-width="2.1"/>
<ellipse cx="1093.9" cy="163.0" rx="40.5" ry="26.8" transform="rotate(25.5 1093.9 163.0)" fill="rgba(170,221,217,0.68)" stroke="rgba(157,208,206,0.9)" stroke-width="2.1"/>
<ellipse cx="1171.4" cy="163.6" rx="40.5" ry="26.8" transform="rotate(25.5 1171.4 163.6)" fill="rgba(170,221,217,0.68)" stroke="rgba(157,208,206,0.9)" stroke-width="2.1"/>
<ellipse cx="1011.6" cy="174.4" rx="40.5" ry="26.8" transform="rotate(25.5 1011.6 174.4)" fill="rgba(170,221,217,0.68)" stroke="rgba(157,208,206,0.9)" stroke-width="2.1"/>
<ellipse cx="1066.4" cy="182.3" rx="40.5" ry="26.8" transform="rotate(25.5 1066.4 182.3)" fill="rgba(170,221,217,0.68)" stroke="rgba(157,208,206,0.9)" stroke-width="2.1"/>
<ellipse cx="1144.5" cy="183.8" rx="40.5" ry="26.8" transform="rotate(25.5 1144.5 183.8)" fill="rgba(170,221,217,0.68)" stroke="rgba(157,208,206,0.9)" stroke-width="2.1"/>
<ellipse cx="1185.4" cy="196.7" rx="40.5" ry="26.8" transform="rotate(25.5 1185.4 196.7)" fill="rgba(170,221,217,0.68)" stroke="rgba(157,208,206,0.9)" stroke-width="2.1"/>
<ellipse cx="923.9" cy="222.1" rx="40.5" ry="26.8" transform="rotate(25.5 923.9 222.1)" fill="rgba(170,221,217,0.68)" stroke="rgba(157,208,206,0.9)" stroke-width="2.1"/>
<ellipse cx="968.9" cy="219.5" rx="40.5" ry="26.8" transform="rotate(25.5 968.9 219.5)" fill="rgba(170,221,217,0.68)" stroke="rgba(157,208,206,0.9)" stroke-width="2.1"/>
<ellipse cx="1004.3" cy="236.2" rx="40.5" ry="26.8" transform="rotate(25.5 1004.3 236.2)" fill="rgba(170,221,217,0.68)" stroke="rgba(157,208,206,0.9)" stroke-width="2.1"/>
<ellipse cx="1057.0" cy="239.4" rx="40.5" ry="26.8" transform="rotate(25.5 1057.0 239.4)" fill="rgba(170,221,217,0.68)" stroke="rgba(157,208,206,0.9)" stroke-width="2.1"/>
<ellipse cx="1205.6" cy="239.1" rx="40.5" ry="26.8" transform="rotate(25.5 1205.6 239.1)" fill="rgba(170,221,217,0.68)" stroke="rgba(157,208,206,0.9)" stroke-width="2.1"/>
<ellipse cx="1258.6" cy="260.2" rx="40.5" ry="26.8" transform="rotate(25.5 1258.6 260.2)" fill="rgba(170,221,217,0.68)" stroke="rgba(157,208,206,0.9)" stroke-width="2.1"/>
<ellipse cx="935.0" cy="273.0" rx="40.5" ry="26.8" transform="rotate(25.5 935.0 273.0)" fill="rgba(170,221,217,0.68)" stroke="rgba(157,208,206,0.9)" stroke-width="2.1"/>
<ellipse cx="1027.2" cy="278.0" rx="40.5" ry="26.8" transform="rotate(25.5 1027.2 278.0)" fill="rgba(170,221,217,0.68)" stroke="rgba(157,208,206,0.9)" stroke-width="2.1"/>
<ellipse cx="1217.3" cy="281.2" rx="40.5" ry="26.8" transform="rotate(25.5 1217.3 281.2)" fill="rgba(170,221,217,0.68)" stroke="rgba(157,208,206,0.9)" stroke-width="2.1"/>
<ellipse cx="1095.0" cy="292.6" rx="40.5" ry="26.8" transform="rotate(25.5 1095.0 292.6)" fill="rgba(170,221,217,0.68)" stroke="rgba(157,208,206,0.9)" stroke-width="2.1"/>
<ellipse cx="1219.4" cy="315.8" rx="40.5" ry="26.8" transform="rotate(25.5 1219.4 315.8)" fill="rgba(170,221,217,0.68)" stroke="rgba(157,208,206,0.9)" stroke-width="2.1"/>
<ellipse cx="983.8" cy="319.8" rx="40.5" ry="26.8" transform="rotate(25.5 983.8 319.8)" fill="rgba(170,221,217,0.68)" stroke="rgba(157,208,206,0.9)" stroke-width="2.1"/>
<ellipse cx="1047.3" cy="323.1" rx="40.5" ry="26.8" transform="rotate(25.5 1047.3 323.1)" fill="rgba(170,221,217,0.68)" stroke="rgba(157,208,206,0.9)" stroke-width="2.1"/>
<ellipse cx="1129.5" cy="326.3" rx="40.5" ry="26.8" transform="rotate(25.5 1129.5 326.3)" fill="rgba(170,221,217,0.68)" stroke="rgba(157,208,206,0.9)" stroke-width="2.1"/>
<ellipse cx="1191.6" cy="336.8" rx="40.5" ry="26.8" transform="rotate(25.5 1191.6 336.8)" fill="rgba(170,221,217,0.68)" stroke="rgba(157,208,206,0.9)" stroke-width="2.1"/>
<ellipse cx="1110.8" cy="363.7" rx="40.5" ry="26.8" transform="rotate(25.5 1110.8 363.7)" fill="rgba(170,221,217,0.68)" stroke="rgba(157,208,206,0.9)" stroke-width="2.1"/>
<ellipse cx="1208.2" cy="377.8" rx="40.5" ry="26.8" transform="rotate(25.5 1208.2 377.8)" fill="rgba(170,221,217,0.68)" stroke="rgba(157,208,206,0.9)" stroke-width="2.1"/>
<ellipse cx="996.1" cy="389.5" rx="40.5" ry="26.8" transform="rotate(25.5 996.1 389.5)" fill="rgba(170,221,217,0.68)" stroke="rgba(157,208,206,0.9)" stroke-width="2.1"/>
<ellipse cx="965.6" cy="415.1" rx="40.5" ry="26.8" transform="rotate(25.5 965.6 415.1)" fill="rgba(170,221,217,0.68)" stroke="rgba(157,208,206,0.9)" stroke-width="2.1"/>
<ellipse cx="1062.0" cy="404.5" rx="40.5" ry="26.8" transform="rotate(25.5 1062.0 404.5)" fill="rgba(170,221,217,0.68)" stroke="rgba(157,208,206,0.9)" stroke-width="2.1"/>
<ellipse cx="1029.0" cy="423.8" rx="40.5" ry="26.8" transform="rotate(25.5 1029.0 423.8)" fill="rgba(170,221,217,0.68)" stroke="rgba(157,208,206,0.9)" stroke-width="2.1"/>
<ellipse cx="1106.5" cy="424.1" rx="40.5" ry="26.8" transform="rotate(25.5 1106.5 424.1)" fill="rgba(170,221,217,0.68)" stroke="rgba(157,208,206,0.9)" stroke-width="2.1"/>
<ellipse cx="1173.4" cy="411.6" rx="40.5" ry="26.8" transform="rotate(25.5 1173.4 411.6)" fill="rgba(170,221,217,0.68)" stroke="rgba(157,208,206,0.9)" stroke-width="2.1"/>
<ellipse cx="1267.1" cy="411.9" rx="40.5" ry="26.8" transform="rotate(25.5 1267.1 411.9)" fill="rgba(170,221,217,0.68)" stroke="rgba(157,208,206,0.9)" stroke-width="2.1"/>
<ellipse cx="1306.8" cy="402.9" rx="40.5" ry="26.8" transform="rotate(25.5 1306.8 402.9)" fill="rgba(170,221,217,0.68)" stroke="rgba(157,208,206,0.9)" stroke-width="2.1"/>
<ellipse cx="1350.2" cy="373.4" rx="40.5" ry="26.8" transform="rotate(25.5 1350.2 373.4)" fill="rgba(170,221,217,0.68)" stroke="rgba(157,208,206,0.9)" stroke-width="2.1"/>
<ellipse cx="1233.9" cy="464.2" rx="40.5" ry="26.8" transform="rotate(25.5 1233.9 464.2)" fill="rgba(170,221,217,0.68)" stroke="rgba(157,208,206,0.9)" stroke-width="2.1"/>
<ellipse cx="1172.7" cy="469.4" rx="40.5" ry="26.8" transform="rotate(25.5 1172.7 469.4)" fill="rgba(170,221,217,0.68)" stroke="rgba(157,208,206,0.9)" stroke-width="2.1"/>
<ellipse cx="1317.8" cy="453.3" rx="40.5" ry="26.8" transform="rotate(25.5 1317.8 453.3)" fill="rgba(170,221,217,0.68)" stroke="rgba(157,208,206,0.9)" stroke-width="2.1"/>
<ellipse cx="949.6" cy="459.2" rx="40.5" ry="26.8" transform="rotate(25.5 949.6 459.2)" fill="rgba(170,221,217,0.68)" stroke="rgba(157,208,206,0.9)" stroke-width="2.1"/>
<ellipse cx="1002.8" cy="463.6" rx="40.5" ry="26.8" transform="rotate(25.5 1002.8 463.6)" fill="rgba(170,221,217,0.68)" stroke="rgba(157,208,206,0.9)" stroke-width="2.1"/>
<ellipse cx="1295.2" cy="470.7" rx="40.5" ry="26.8" transform="rotate(25.5 1295.2 470.7)" fill="rgba(170,221,217,0.68)" stroke="rgba(157,208,206,0.9)" stroke-width="2.1"/>
<polygon points="1063.1,115.3 1096.5,108.9 1093.9,163.0" fill="#68a5a0"/>
<polygon points="1063.1,115.3 1032.4,139.9 1093.9,163.0" fill="#80bcb7"/>
<polygon points="1096.5,108.9 1129.0,151.3 1093.9,163.0" fill="#68a5a0"/>
<polygon points="1032.4,139.9 1011.6,174.4 1066.4,182.3" fill="#80bcb7"/>
<polygon points="1032.4,139.9 1066.4,182.3 1093.9,163.0" fill="#68a5a0"/>
<polygon points="1093.9,163.0 1129.0,151.3 1144.5,183.8" fill="#68a5a0"/>
<polygon points="1129.0,151.3 1171.4,163.6 1144.5,183.8" fill="#68a5a0"/>
<polygon points="1171.4,163.6 1144.5,183.8 1185.4,196.7" fill="#68a5a0"/>
<polygon points="1144.5,183.8 1185.4,196.7 1205.6,239.1" fill="#68a5a0"/>
<polygon points="1205.6,239.1 1258.6,260.2 1217.3,281.2" fill="#80bcb7"/>
<polygon points="923.9,222.1 968.9,219.5 935.0,273.0" fill="#80bcb7"/>
<polygon points="1004.3,236.2 1057.0,239.4 1027.2,278.0" fill="#68a5a0"/>
<polygon points="1057.0,239.4 1027.2,278.0 1095.0,292.6" fill="#68a5a0"/>
<polygon points="1027.2,278.0 1095.0,292.6 1047.3,323.1" fill="#68a5a0"/>
<polygon points="1110.8,363.7 1062.0,404.5 1106.5,424.1" fill="#80bcb7"/>
<polygon points="1110.8,363.7 1106.5,424.1 1173.4,411.6" fill="#68a5a0"/>
<polygon points="1110.8,363.7 1173.4,411.6 1208.2,377.8" fill="#68a5a0"/>
<polygon points="1191.6,336.8 1173.4,411.6 1208.2,377.8" fill="#80bcb7"/>
<polygon points="996.1,389.5 1062.0,404.5 1029.0,423.8" fill="#68a5a0"/>
<line x1="1110.8" y1="363.7" x2="1208.2" y2="377.8" stroke="rgba(20,35,35,0.75)" stroke-width="1.5"/>
<g stroke="#000" stroke-width="3.3" stroke-linecap="round">
<line x1="1063.1" y1="115.3" x2="1096.5" y2="108.9"/>
<line x1="1063.1" y1="115.3" x2="1032.4" y2="139.9"/>
<line x1="1063.1" y1="115.3" x2="1093.9" y2="163.0"/>
<line x1="1096.5" y1="108.9" x2="1093.9" y2="163.0"/>
<line x1="1096.5" y1="108.9" x2="1129.0" y2="151.3"/>
<line x1="1032.4" y1="139.9" x2="1093.9" y2="163.0"/>
<line x1="1032.4" y1="139.9" x2="1011.6" y2="174.4"/>
<line x1="1032.4" y1="139.9" x2="1066.4" y2="182.3"/>
<line x1="1011.6" y1="174.4" x2="1066.4" y2="182.3"/>
<line x1="1066.4" y1="182.3" x2="1093.9" y2="163.0"/>
<line x1="1093.9" y1="163.0" x2="1129.0" y2="151.3"/>
<line x1="1093.9" y1="163.0" x2="1144.5" y2="183.8"/>
<line x1="1129.0" y1="151.3" x2="1144.5" y2="183.8"/>
<line x1="1129.0" y1="151.3" x2="1171.4" y2="163.6"/>
<line x1="1171.4" y1="163.6" x2="1144.5" y2="183.8"/>
<line x1="1171.4" y1="163.6" x2="1185.4" y2="196.7"/>
<line x1="1144.5" y1="183.8" x2="1185.4" y2="196.7"/>
<line x1="1144.5" y1="183.8" x2="1205.6" y2="239.1"/>
<line x1="1185.4" y1="196.7" x2="1205.6" y2="239.1"/>
<line x1="1205.6" y1="239.1" x2="1258.6" y2="260.2"/>
<line x1="1205.6" y1="239.1" x2="1217.3" y2="281.2"/>
<line x1="1258.6" y1="260.2" x2="1217.3" y2="281.2"/>
<line x1="1217.3" y1="281.2" x2="1219.4" y2="315.8"/>
<line x1="1219.4" y1="315.8" x2="1191.6" y2="336.8"/>
<line x1="1191.6" y1="336.8" x2="1129.5" y2="326.3"/>
<line x1="1191.6" y1="336.8" x2="1208.2" y2="377.8"/>
<line x1="1191.6" y1="336.8" x2="1173.4" y2="411.6"/>
<line x1="1129.5" y1="326.3" x2="1095.0" y2="292.6"/>
<line x1="1129.5" y1="326.3" x2="1110.8" y2="363.7"/>
<line x1="1095.0" y1="292.6" x2="1057.0" y2="239.4"/>
<line x1="1095.0" y1="292.6" x2="1027.2" y2="278.0"/>
<line x1="1095.0" y1="292.6" x2="1047.3" y2="323.1"/>
<line x1="1027.2" y1="278.0" x2="1057.0" y2="239.4"/>
<line x1="1027.2" y1="278.0" x2="1004.3" y2="236.2"/>
<line x1="1027.2" y1="278.0" x2="1047.3" y2="323.1"/>
<line x1="1004.3" y1="236.2" x2="1057.0" y2="239.4"/>
<line x1="1004.3" y1="236.2" x2="968.9" y2="219.5"/>
<line x1="968.9" y1="219.5" x2="923.9" y2="222.1"/>
<line x1="923.9" y1="222.1" x2="935.0" y2="273.0"/>
<line x1="968.9" y1="219.5" x2="935.0" y2="273.0"/>
<line x1="935.0" y1="273.0" x2="983.8" y2="319.8"/>
<line x1="983.8" y1="319.8" x2="1047.3" y2="323.1"/>
<line x1="983.8" y1="319.8" x2="996.1" y2="389.5"/>
<line x1="1047.3" y1="323.1" x2="1110.8" y2="363.7"/>
<line x1="1110.8" y1="363.7" x2="1062.0" y2="404.5"/>
<line x1="1110.8" y1="363.7" x2="1106.5" y2="424.1"/>
<line x1="1110.8" y1="363.7" x2="1173.4" y2="411.6"/>
<line x1="1208.2" y1="377.8" x2="1267.1" y2="411.9"/>
<line x1="1208.2" y1="377.8" x2="1173.4" y2="411.6"/>
<line x1="996.1" y1="389.5" x2="1062.0" y2="404.5"/>
</g>
<ellipse cx="1063.1" cy="115.3" rx="10.0" ry="6.8" transform="rotate(25.5 1063.1 115.3)" fill="#000"/>
<ellipse cx="1096.5" cy="108.9" rx="10.0" ry="6.8" transform="rotate(25.5 1096.5 108.9)" fill="#000"/>
<ellipse cx="1032.4" cy="139.9" rx="10.0" ry="6.8" transform="rotate(25.5 1032.4 139.9)" fill="#000"/>
<ellipse cx="1129.0" cy="151.3" rx="10.0" ry="6.8" transform="rotate(25.5 1129.0 151.3)" fill="#000"/>
<ellipse cx="1093.9" cy="163.0" rx="10.0" ry="6.8" transform="rotate(25.5 1093.9 163.0)" fill="#000"/>
<ellipse cx="1171.4" cy="163.6" rx="10.0" ry="6.8" transform="rotate(25.5 1171.4 163.6)" fill="#000"/>
<ellipse cx="1011.6" cy="174.4" rx="10.0" ry="6.8" transform="rotate(25.5 1011.6 174.4)" fill="#000"/>
<ellipse cx="1066.4" cy="182.3" rx="10.0" ry="6.8" transform="rotate(25.5 1066.4 182.3)" fill="#000"/>
<ellipse cx="1144.5" cy="183.8" rx="10.0" ry="6.8" transform="rotate(25.5 1144.5 183.8)" fill="#000"/>
<ellipse cx="1185.4" cy="196.7" rx="10.0" ry="6.8" transform="rotate(25.5 1185.4 196.7)" fill="#000"/>
<ellipse cx="923.9" cy="222.1" rx="10.0" ry="6.8" transform="rotate(25.5 923.9 222.1)" fill="#000"/>
<ellipse cx="968.9" cy="219.5" rx="10.0" ry="6.8" transform="rotate(25.5 968.9 219.5)" fill="#000"/>
<ellipse cx="1004.3" cy="236.2" rx="10.0" ry="6.8" transform="rotate(25.5 1004.3 236.2)" fill="#000"/>
<ellipse cx="1057.0" cy="239.4" rx="10.0" ry="6.8" transform="rotate(25.5 1057.0 239.4)" fill="#000"/>
<ellipse cx="1205.6" cy="239.1" rx="10.0" ry="6.8" transform="rotate(25.5 1205.6 239.1)" fill="#000"/>
<ellipse cx="1258.6" cy="260.2" rx="10.0" ry="6.8" transform="rotate(25.5 1258.6 260.2)" fill="#000"/>
<ellipse cx="935.0" cy="273.0" rx="10.0" ry="6.8" transform="rotate(25.5 935.0 273.0)" fill="#000"/>
<ellipse cx="1027.2" cy="278.0" rx="10.0" ry="6.8" transform="rotate(25.5 1027.2 278.0)" fill="#000"/>
<ellipse cx="1217.3" cy="281.2" rx="10.0" ry="6.8" transform="rotate(25.5 1217.3 281.2)" fill="#000"/>
<ellipse cx="1095.0" cy="292.6" rx="10.0" ry="6.8" transform="rotate(25.5 1095.0 292.6)" fill="#000"/>
<ellipse cx="1219.4" cy="315.8" rx="10.0" ry="6.8" transform="rotate(25.5 1219.4 315.8)" fill="#000"/>
<ellipse cx="983.8" cy="319.8" rx="10.0" ry="6.8" transform="rotate(25.5 983.8 319.8)" fill="#000"/>
<ellipse cx="1047.3" cy="323.1" rx="10.0" ry="6.8" transform="rotate(25.5 1047.3 323.1)" fill="#000"/>
<ellipse cx="1129.5" cy="326.3" rx="10.0" ry="6.8" transform="rotate(25.5 1129.5 326.3)" fill="#000"/>
<ellipse cx="1191.6" cy="336.8" rx="10.0" ry="6.8" transform="rotate(25.5 1191.6 336.8)" fill="#000"/>
<ellipse cx="1110.8" cy="363.7" rx="10.0" ry="6.8" transform="rotate(25.5 1110.8 363.7)" fill="#000"/>
<ellipse cx="1208.2" cy="377.8" rx="10.0" ry="6.8" transform="rotate(25.5 1208.2 377.8)" fill="#000"/>
<ellipse cx="996.1" cy="389.5" rx="10.0" ry="6.8" transform="rotate(25.5 996.1 389.5)" fill="#000"/>
<ellipse cx="965.6" cy="415.1" rx="10.0" ry="6.8" transform="rotate(25.5 965.6 415.1)" fill="#000"/>
<ellipse cx="1062.0" cy="404.5" rx="10.0" ry="6.8" transform="rotate(25.5 1062.0 404.5)" fill="#000"/>
<ellipse cx="1029.0" cy="423.8" rx="10.0" ry="6.8" transform="rotate(25.5 1029.0 423.8)" fill="#000"/>
<ellipse cx="1106.5" cy="424.1" rx="10.0" ry="6.8" transform="rotate(25.5 1106.5 424.1)" fill="#000"/>
<ellipse cx="1173.4" cy="411.6" rx="10.0" ry="6.8" transform="rotate(25.5 1173.4 411.6)" fill="#000"/>
<ellipse cx="1267.1" cy="411.9" rx="10.0" ry="6.8" transform="rotate(25.5 1267.1 411.9)" fill="#000"/>
<ellipse cx="1306.8" cy="402.9" rx="10.0" ry="6.8" transform="rotate(25.5 1306.8 402.9)" fill="#000"/>
<ellipse cx="1350.2" cy="373.4" rx="10.0" ry="6.8" transform="rotate(25.5 1350.2 373.4)" fill="#000"/>
<ellipse cx="1233.9" cy="464.2" rx="10.0" ry="6.8" transform="rotate(25.5 1233.9 464.2)" fill="#000"/>
<ellipse cx="1172.7" cy="469.4" rx="10.0" ry="6.8" transform="rotate(25.5 1172.7 469.4)" fill="#000"/>
<ellipse cx="1317.8" cy="453.3" rx="10.0" ry="6.8" transform="rotate(25.5 1317.8 453.3)" fill="#000"/>
<ellipse cx="949.6" cy="459.2" rx="10.0" ry="6.8" transform="rotate(25.5 949.6 459.2)" fill="#000"/>
<ellipse cx="1002.8" cy="463.6" rx="10.0" ry="6.8" transform="rotate(25.5 1002.8 463.6)" fill="#000"/>
<ellipse cx="1295.2" cy="470.7" rx="10.0" ry="6.8" transform="rotate(25.5 1295.2 470.7)" fill="#000"/>
</g>
<rect x="898.1" y="91.0" width="389.4" height="304.7" fill="none" stroke="#1a1a1a" stroke-width="1.8"/>
<clipPath id="cp3"><rect x="1316.7" y="91.0" width="389.4" height="304.7"/></clipPath>
<g clip-path="url(#cp3)">
<ellipse cx="1480.0" cy="112.4" rx="53.6" ry="36.5" transform="rotate(25.5 1480.0 112.4)" fill="rgba(170,221,217,0.68)" stroke="rgba(157,208,206,0.9)" stroke-width="1.8"/>
<ellipse cx="1513.4" cy="106.0" rx="53.6" ry="36.5" transform="rotate(25.5 1513.4 106.0)" fill="rgba(170,221,217,0.68)" stroke="rgba(157,208,206,0.9)" stroke-width="1.8"/>
<ellipse cx="1449.3" cy="137.1" rx="53.6" ry="36.5" transform="rotate(25.5 1449.3 137.1)" fill="rgba(170,221,217,0.68)" stroke="rgba(157,208,206,0.9)" stroke-width="1.8"/>
<ellipse cx="1545.9" cy="148.6" rx="53.6" ry="36.5" transform="rotate(25.5 1545.9 148.6)" fill="rgba(170,221,217,0.68)" stroke="rgba(157,208,206,0.9)" stroke-width="1.8"/>
<ellipse cx="1510.8" cy="160.4" rx="53.6" ry="36.5" transform="rotate(25.5 1510.8 160.4)" fill="rgba(170,221,217,0.68)" stroke="rgba(157,208,206,0.9)" stroke-width="1.8"/>
<ellipse cx="1588.3" cy="161.0" rx="53.6" ry="36.5" transform="rotate(25.5 1588.3 161.0)" fill="rgba(170,221,217,0.68)" stroke="rgba(157,208,206,0.9)" stroke-width="1.8"/>
<ellipse cx="1428.5" cy="171.8" rx="53.6" ry="36.5" transform="rotate(25.5 1428.5 171.8)" fill="rgba(170,221,217,0.68)" stroke="rgba(157,208,206,0.9)" stroke-width="1.8"/>
<ellipse cx="1483.3" cy="179.8" rx="53.6" ry="36.5" transform="rotate(25.5 1483.3 179.8)" fill="rgba(170,221,217,0.68)" stroke="rgba(157,208,206,0.9)" stroke-width="1.8"/>
<ellipse cx="1561.4" cy="181.3" rx="53.6" ry="36.5" transform="rotate(25.5 1561.4 181.3)" fill="rgba(170,221,217,0.68)" stroke="rgba(157,208,206,0.9)" stroke-width="1.8"/>
<ellipse cx="1602.3" cy="194.2" rx="53.6" ry="36.5" transform="rotate(25.5 1602.3 194.2)" fill="rgba(170,221,217,0.68)" stroke="rgba(157,208,206,0.9)" stroke-width="1.8"/>
<ellipse cx="1340.8" cy="219.8" rx="53.6" ry="36.5" transform="rotate(25.5 1340.8 219.8)" fill="rgba(170,221,217,0.68)" stroke="rgba(157,208,206,0.9)" stroke-width="1.8"/>
<ellipse cx="1385.8" cy="217.1" rx="53.6" ry="36.5" transform="rotate(25.5 1385.8 217.1)" fill="rgba(170,221,217,0.68)" stroke="rgba(157,208,206,0.9)" stroke-width="1.8"/>
<ellipse cx="1421.2" cy="233.9" rx="53.6" ry="36.5" transform="rotate(25.5 1421.2 233.9)" fill="rgba(170,221,217,0.68)" stroke="rgba(157,208,206,0.9)" stroke-width="1.8"/>
<ellipse cx="1473.9" cy="237.1" rx="53.6" ry="36.5" transform="rotate(25.5 1473.9 237.1)" fill="rgba(170,221,217,0.68)" stroke="rgba(157,208,206,0.9)" stroke-width="1.8"/>
<ellipse cx="1622.5" cy="236.8" rx="53.6" ry="36.5" transform="rotate(25.5 1622.5 236.8)" fill="rgba(170,221,217,0.68)" stroke="rgba(157,208,206,0.9)" stroke-width="1.8"/>
<ellipse cx="1675.5" cy="258.0" rx="53.6" ry="36.5" transform="rotate(25.5 1675.5 258.0)" fill="rgba(170,221,217,0.68)" stroke="rgba(157,208,206,0.9)" stroke-width="1.8"/>
<ellipse cx="1351.9" cy="270.9" rx="53.6" ry="36.5" transform="rotate(25.5 1351.9 270.9)" fill="rgba(170,221,217,0.68)" stroke="rgba(157,208,206,0.9)" stroke-width="1.8"/>
<ellipse cx="1444.1" cy="275.9" rx="53.6" ry="36.5" transform="rotate(25.5 1444.1 275.9)" fill="rgba(170,221,217,0.68)" stroke="rgba(157,208,206,0.9)" stroke-width="1.8"/>
<ellipse cx="1634.2" cy="279.2" rx="53.6" ry="36.5" transform="rotate(25.5 1634.2 279.2)" fill="rgba(170,221,217,0.68)" stroke="rgba(157,208,206,0.9)" stroke-width="1.8"/>
<ellipse cx="1511.9" cy="290.6" rx="53.6" ry="36.5" transform="rotate(25.5 1511.9 290.6)" fill="rgba(170,221,217,0.68)" stroke="rgba(157,208,206,0.9)" stroke-width="1.8"/>
<ellipse cx="1636.3" cy="313.9" rx="53.6" ry="36.5" transform="rotate(25.5 1636.3 313.9)" fill="rgba(170,221,217,0.68)" stroke="rgba(157,208,206,0.9)" stroke-width="1.8"/>
<ellipse cx="1400.7" cy="317.9" rx="53.6" ry="36.5" transform="rotate(25.5 1400.7 317.9)" fill="rgba(170,221,217,0.68)" stroke="rgba(157,208,206,0.9)" stroke-width="1.8"/>
<ellipse cx="1464.2" cy="321.3" rx="53.6" ry="36.5" transform="rotate(25.5 1464.2 321.3)" fill="rgba(170,221,217,0.68)" stroke="rgba(157,208,206,0.9)" stroke-width="1.8"/>
<ellipse cx="1546.4" cy="324.5" rx="53.6" ry="36.5" transform="rotate(25.5 1546.4 324.5)" fill="rgba(170,221,217,0.68)" stroke="rgba(157,208,206,0.9)" stroke-width="1.8"/>
<ellipse cx="1608.5" cy="335.0" rx="53.6" ry="36.5" transform="rotate(25.5 1608.5 335.0)" fill="rgba(170,221,217,0.68)" stroke="rgba(157,208,206,0.9)" stroke-width="1.8"/>
<ellipse cx="1527.7" cy="362.1" rx="53.6" ry="36.5" transform="rotate(25.5 1527.7 362.1)" fill="rgba(170,221,217,0.68)" stroke="rgba(157,208,206,0.9)" stroke-width="1.8"/>
<ellipse cx="1625.1" cy="376.2" rx="53.6" ry="36.5" transform="rotate(25.5 1625.1 376.2)" fill="rgba(170,221,217,0.68)" stroke="rgba(157,208,206,0.9)" stroke-width="1.8"/>
<ellipse cx="1413.0" cy="388.0" rx="53.6" ry="36.5" transform="rotate(25.5 1413.0 388.0)" fill="rgba(170,221,217,0.68)" stroke="rgba(157,208,206,0.9)" stroke-width="1.8"/>
<ellipse cx="1382.5" cy="413.7" rx="53.6" ry="36.5" transform="rotate(25.5 1382.5 413.7)" fill="rgba(170,221,217,0.68)" stroke="rgba(157,208,206,0.9)" stroke-width="1.8"/>
<ellipse cx="1478.9" cy="403.1" rx="53.6" ry="36.5" transform="rotate(25.5 1478.9 403.1)" fill="rgba(170,221,217,0.68)" stroke="rgba(157,208,206,0.9)" stroke-width="1.8"/>
<ellipse cx="1445.9" cy="422.5" rx="53.6" ry="36.5" transform="rotate(25.5 1445.9 422.5)" fill="rgba(170,221,217,0.68)" stroke="rgba(157,208,206,0.9)" stroke-width="1.8"/>
<ellipse cx="1523.4" cy="422.8" rx="53.6" ry="36.5" transform="rotate(25.5 1523.4 422.8)" fill="rgba(170,221,217,0.68)" stroke="rgba(157,208,206,0.9)" stroke-width="1.8"/>
<ellipse cx="1590.3" cy="410.2" rx="53.6" ry="36.5" transform="rotate(25.5 1590.3 410.2)" fill="rgba(170,221,217,0.68)" stroke="rgba(157,208,206,0.9)" stroke-width="1.8"/>
<ellipse cx="1684.0" cy="410.6" rx="53.6" ry="36.5" transform="rotate(25.5 1684.0 410.6)" fill="rgba(170,221,217,0.68)" stroke="rgba(157,208,206,0.9)" stroke-width="1.8"/>
<ellipse cx="1723.7" cy="401.5" rx="53.6" ry="36.5" transform="rotate(25.5 1723.7 401.5)" fill="rgba(170,221,217,0.68)" stroke="rgba(157,208,206,0.9)" stroke-width="1.8"/>
<ellipse cx="1767.1" cy="371.8" rx="53.6" ry="36.5" transform="rotate(25.5 1767.1 371.8)" fill="rgba(170,221,217,0.68)" stroke="rgba(157,208,206,0.9)" stroke-width="1.8"/>
<ellipse cx="1650.8" cy="463.1" rx="53.6" ry="36.5" transform="rotate(25.5 1650.8 463.1)" fill="rgba(170,221,217,0.68)" stroke="rgba(157,208,206,0.9)" stroke-width="1.8"/>
<ellipse cx="1589.6" cy="468.3" rx="53.6" ry="36.5" transform="rotate(25.5 1589.6 468.3)" fill="rgba(170,221,217,0.68)" stroke="rgba(157,208,206,0.9)" stroke-width="1.8"/>
<ellipse cx="1734.7" cy="452.1" rx="53.6" ry="36.5" transform="rotate(25.5 1734.7 452.1)" fill="rgba(170,221,217,0.68)" stroke="rgba(157,208,206,0.9)" stroke-width="1.8"/>
<ellipse cx="1366.5" cy="458.0" rx="53.6" ry="36.5" transform="rotate(25.5 1366.5 458.0)" fill="rgba(170,221,217,0.68)" stroke="rgba(157,208,206,0.9)" stroke-width="1.8"/>
<ellipse cx="1419.7" cy="462.4" rx="53.6" ry="36.5" transform="rotate(25.5 1419.7 462.4)" fill="rgba(170,221,217,0.68)" stroke="rgba(157,208,206,0.9)" stroke-width="1.8"/>
<ellipse cx="1712.1" cy="469.6" rx="53.6" ry="36.5" transform="rotate(25.5 1712.1 469.6)" fill="rgba(170,221,217,0.68)" stroke="rgba(157,208,206,0.9)" stroke-width="1.8"/>
<polygon points="1480.0,112.4 1513.4,106.0 1510.8,160.4" fill="#68a5a0"/>
<polygon points="1480.0,112.4 1449.3,137.1 1510.8,160.4" fill="#80bcb7"/>
<polygon points="1513.4,106.0 1545.9,148.6 1510.8,160.4" fill="#68a5a0"/>
<polygon points="1449.3,137.1 1428.5,171.8 1483.3,179.8" fill="#80bcb7"/>
<polygon points="1449.3,137.1 1483.3,179.8 1510.8,160.4" fill="#68a5a0"/>
<polygon points="1510.8,160.4 1545.9,148.6 1561.4,181.3" fill="#68a5a0"/>
<polygon points="1545.9,148.6 1588.3,161.0 1561.4,181.3" fill="#68a5a0"/>
<polygon points="1588.3,161.0 1561.4,181.3 1602.3,194.2" fill="#68a5a0"/>
<polygon points="1561.4,181.3 1602.3,194.2 1622.5,236.8" fill="#68a5a0"/>
<polygon points="1602.3,194.2 1622.5,236.8 1675.5,258.0" fill="#68a5a0"/>
<polygon points="1622.5,236.8 1675.5,258.0 1634.2,279.2" fill="#80bcb7"/>
<polygon points="1634.2,279.2 1675.5,258.0 1636.3,313.9" fill="#68a5a0"/>
<polygon points="1634.2,279.2 1636.3,313.9 1608.5,335.0" fill="#68a5a0"/>
<polygon points="1340.8,219.8 1385.8,217.1 1351.9,270.9" fill="#80bcb7"/>
<polygon points="1340.8,219.8 1385.8,217.1 1421.2,233.9" fill="#68a5a0"/>
<polygon points="1385.8,217.1 1421.2,233.9 1351.9,270.9" fill="#68a5a0"/>
<polygon points="1421.2,233.9 1351.9,270.9 1444.1,275.9" fill="#80bcb7"/>
<polygon points="1351.9,270.9 1444.1,275.9 1400.7,317.9" fill="#68a5a0"/>
<polygon points="1444.1,275.9 1400.7,317.9 1464.2,321.3" fill="#80bcb7"/>
<polygon points="1428.5,171.8 1385.8,217.1 1421.2,233.9" fill="#68a5a0"/>
<polygon points="1428.5,171.8 1421.2,233.9 1473.9,237.1" fill="#80bcb7"/>
<polygon points="1428.5,171.8 1483.3,179.8 1473.9,237.1" fill="#68a5a0"/>
<polygon points="1421.2,233.9 1473.9,237.1 1444.1,275.9" fill="#68a5a0"/>
<polygon points="1473.9,237.1 1444.1,275.9 1511.9,290.6" fill="#68a5a0"/>
<polygon points="1444.1,275.9 1511.9,290.6 1464.2,321.3" fill="#68a5a0"/>
<polygon points="1464.2,321.3 1511.9,290.6 1527.7,362.1" fill="#80bcb7"/>
<polygon points="1511.9,290.6 1546.4,324.5 1527.7,362.1" fill="#68a5a0"/>
<polygon points="1511.9,290.6 1546.4,324.5 1608.5,335.0" fill="#68a5a0"/>
<polygon points="1546.4,324.5 1608.5,335.0 1527.7,362.1" fill="#80bcb7"/>
<polygon points="1608.5,335.0 1527.7,362.1 1625.1,376.2" fill="#68a5a0"/>
<polygon points="1464.2,321.3 1546.4,324.5 1527.7,362.1" fill="#68a5a0"/>
<polygon points="1527.7,362.1 1478.9,403.1 1523.4,422.8" fill="#80bcb7"/>
<polygon points="1527.7,362.1 1523.4,422.8 1590.3,410.2" fill="#68a5a0"/>
<polygon points="1527.7,362.1 1590.3,410.2 1625.1,376.2" fill="#68a5a0"/>
<polygon points="1608.5,335.0 1590.3,410.2 1625.1,376.2" fill="#68a5a0"/>
<polygon points="1625.1,376.2 1590.3,410.2 1684.0,410.6" fill="#80bcb7"/>
<polygon points="1413.0,388.0 1478.9,403.1 1445.9,422.5" fill="#68a5a0"/>
<polygon points="1510.8,160.4 1545.9,148.6 1588.3,161.0" fill="#68a5a0"/>
<polygon points="1545.9,148.6 1561.4,181.3 1602.3,194.2" fill="#68a5a0"/>
<polygon points="1636.3,313.9 1608.5,335.0 1625.1,376.2" fill="#68a5a0"/>
<line x1="1340.8" y1="219.8" x2="1421.2" y2="233.9" stroke="rgba(20,35,35,0.75)" stroke-width="1.5"/>
<line x1="1385.8" y1="217.1" x2="1473.9" y2="237.1" stroke="rgba(20,35,35,0.75)" stroke-width="1.5"/>
<line x1="1464.2" y1="321.3" x2="1546.4" y2="324.5" stroke="rgba(20,35,35,0.75)" stroke-width="1.5"/>
<line x1="1510.8" y1="160.4" x2="1588.3" y2="161.0" stroke="rgba(20,35,35,0.75)" stroke-width="1.5"/>
<line x1="1545.9" y1="148.6" x2="1602.3" y2="194.2" stroke="rgba(20,35,35,0.75)" stroke-width="1.5"/>
<line x1="1527.7" y1="362.1" x2="1625.1" y2="376.2" stroke="rgba(20,35,35,0.75)" stroke-width="1.5"/>
<g stroke="#000" stroke-width="3.3" stroke-linecap="round">
<line x1="1480.0" y1="112.4" x2="1513.4" y2="106.0"/>
<line x1="1480.0" y1="112.4" x2="1449.3" y2="137.1"/>
<line x1="1480.0" y1="112.4" x2="1510.8" y2="160.4"/>
<line x1="1513.4" y1="106.0" x2="1510.8" y2="160.4"/>
<line x1="1513.4" y1="106.0" x2="1545.9" y2="148.6"/>
<line x1="1449.3" y1="137.1" x2="1510.8" y2="160.4"/>
<line x1="1449.3" y1="137.1" x2="1428.5" y2="171.8"/>
<line x1="1449.3" y1="137.1" x2="1483.3" y2="179.8"/>
<line x1="1428.5" y1="171.8" x2="1483.3" y2="179.8"/>
<line x1="1483.3" y1="179.8" x2="1510.8" y2="160.4"/>
<line x1="1510.8" y1="160.4" x2="1545.9" y2="148.6"/>
<line x1="1510.8" y1="160.4" x2="1561.4" y2="181.3"/>
<line x1="1545.9" y1="148.6" x2="1561.4" y2="181.3"/>
<line x1="1545.9" y1="148.6" x2="1588.3" y2="161.0"/>
<line x1="1588.3" y1="161.0" x2="1561.4" y2="181.3"/>
<line x1="1588.3" y1="161.0" x2="1602.3" y2="194.2"/>
<line x1="1561.4" y1="181.3" x2="1602.3" y2="194.2"/>
<line x1="1561.4" y1="181.3" x2="1622.5" y2="236.8"/>
<line x1="1602.3" y1="194.2" x2="1622.5" y2="236.8"/>
<line x1="1622.5" y1="236.8" x2="1675.5" y2="258.0"/>
<line x1="1622.5" y1="236.8" x2="1634.2" y2="279.2"/>
<line x1="1675.5" y1="258.0" x2="1634.2" y2="279.2"/>
<line x1="1634.2" y1="279.2" x2="1636.3" y2="313.9"/>
<line x1="1636.3" y1="313.9" x2="1608.5" y2="335.0"/>
<line x1="1608.5" y1="335.0" x2="1546.4" y2="324.5"/>
<line x1="1608.5" y1="335.0" x2="1625.1" y2="376.2"/>
<line x1="1608.5" y1="335.0" x2="1590.3" y2="410.2"/>
<line x1="1546.4" y1="324.5" x2="1511.9" y2="290.6"/>
<line x1="1546.4" y1="324.5" x2="1527.7" y2="362.1"/>
<line x1="1511.9" y1="290.6" x2="1473.9" y2="237.1"/>
<line x1="1511.9" y1="290.6" x2="1444.1" y2="275.9"/>
<line x1="1511.9" y1="290.6" x2="1464.2" y2="321.3"/>
<line x1="1444.1" y1="275.9" x2="1473.9" y2="237.1"/>
<line x1="1444.1" y1="275.9" x2="1421.2" y2="233.9"/>
<line x1="1444.1" y1="275.9" x2="1464.2" y2="321.3"/>
<line x1="1421.2" y1="233.9" x2="1473.9" y2="237.1"/>
<line x1="1421.2" y1="233.9" x2="1385.8" y2="217.1"/>
<line x1="1385.8" y1="217.1" x2="1340.8" y2="219.8"/>
<line x1="1340.8" y1="219.8" x2="1351.9" y2="270.9"/>
<line x1="1385.8" y1="217.1" x2="1351.9" y2="270.9"/>
<line x1="1351.9" y1="270.9" x2="1400.7" y2="317.9"/>
<line x1="1400.7" y1="317.9" x2="1464.2" y2="321.3"/>
<line x1="1400.7" y1="317.9" x2="1413.0" y2="388.0"/>
<line x1="1464.2" y1="321.3" x2="1527.7" y2="362.1"/>
<line x1="1527.7" y1="362.1" x2="1478.9" y2="403.1"/>
<line x1="1527.7" y1="362.1" x2="1523.4" y2="422.8"/>
<line x1="1527.7" y1="362.1" x2="1590.3" y2="410.2"/>
<line x1="1625.1" y1="376.2" x2="1684.0" y2="410.6"/>
<line x1="1625.1" y1="376.2" x2="1590.3" y2="410.2"/>
<line x1="1413.0" y1="388.0" x2="1478.9" y2="403.1"/>
<line x1="1428.5" y1="171.8" x2="1421.2" y2="233.9"/>
<line x1="1428.5" y1="171.8" x2="1385.8" y2="217.1"/>
<line x1="1428.5" y1="171.8" x2="1473.9" y2="237.1"/>
<line x1="1483.3" y1="179.8" x2="1473.9" y2="237.1"/>
<line x1="1421.2" y1="233.9" x2="1351.9" y2="270.9"/>
<line x1="1351.9" y1="270.9" x2="1444.1" y2="275.9"/>
<line x1="1400.7" y1="317.9" x2="1444.1" y2="275.9"/>
<line x1="1511.9" y1="290.6" x2="1608.5" y2="335.0"/>
<line x1="1511.9" y1="290.6" x2="1527.7" y2="362.1"/>
<line x1="1608.5" y1="335.0" x2="1527.7" y2="362.1"/>
<line x1="1634.2" y1="279.2" x2="1608.5" y2="335.0"/>
<line x1="1675.5" y1="258.0" x2="1636.3" y2="313.9"/>
<line x1="1602.3" y1="194.2" x2="1675.5" y2="258.0"/>
<line x1="1636.3" y1="313.9" x2="1625.1" y2="376.2"/>
<line x1="1413.0" y1="388.0" x2="1382.5" y2="413.7"/>
</g>
<ellipse cx="1480.0" cy="112.4" rx="10.0" ry="6.8" transform="rotate(25.5 1480.0 112.4)" fill="#000"/>
<ellipse cx="1513.4" cy="106.0" rx="10.0" ry="6.8" transform="rotate(25.5 1513.4 106.0)" fill="#000"/>
<ellipse cx="1449.3" cy="137.1" rx="10.0" ry="6.8" transform="rotate(25.5 1449.3 137.1)" fill="#000"/>
<ellipse cx="1545.9" cy="148.6" rx="10.0" ry="6.8" transform="rotate(25.5 1545.9 148.6)" fill="#000"/>
<ellipse cx="1510.8" cy="160.4" rx="10.0" ry="6.8" transform="rotate(25.5 1510.8 160.4)" fill="#000"/>
<ellipse cx="1588.3" cy="161.0" rx="10.0" ry="6.8" transform="rotate(25.5 1588.3 161.0)" fill="#000"/>
<ellipse cx="1428.5" cy="171.8" rx="10.0" ry="6.8" transform="rotate(25.5 1428.5 171.8)" fill="#000"/>
<ellipse cx="1483.3" cy="179.8" rx="10.0" ry="6.8" transform="rotate(25.5 1483.3 179.8)" fill="#000"/>
<ellipse cx="1561.4" cy="181.3" rx="10.0" ry="6.8" transform="rotate(25.5 1561.4 181.3)" fill="#000"/>
<ellipse cx="1602.3" cy="194.2" rx="10.0" ry="6.8" transform="rotate(25.5 1602.3 194.2)" fill="#000"/>
<ellipse cx="1340.8" cy="219.8" rx="10.0" ry="6.8" transform="rotate(25.5 1340.8 219.8)" fill="#000"/>
<ellipse cx="1385.8" cy="217.1" rx="10.0" ry="6.8" transform="rotate(25.5 1385.8 217.1)" fill="#000"/>
<ellipse cx="1421.2" cy="233.9" rx="10.0" ry="6.8" transform="rotate(25.5 1421.2 233.9)" fill="#000"/>
<ellipse cx="1473.9" cy="237.1" rx="10.0" ry="6.8" transform="rotate(25.5 1473.9 237.1)" fill="#000"/>
<ellipse cx="1622.5" cy="236.8" rx="10.0" ry="6.8" transform="rotate(25.5 1622.5 236.8)" fill="#000"/>
<ellipse cx="1675.5" cy="258.0" rx="10.0" ry="6.8" transform="rotate(25.5 1675.5 258.0)" fill="#000"/>
<ellipse cx="1351.9" cy="270.9" rx="10.0" ry="6.8" transform="rotate(25.5 1351.9 270.9)" fill="#000"/>
<ellipse cx="1444.1" cy="275.9" rx="10.0" ry="6.8" transform="rotate(25.5 1444.1 275.9)" fill="#000"/>
<ellipse cx="1634.2" cy="279.2" rx="10.0" ry="6.8" transform="rotate(25.5 1634.2 279.2)" fill="#000"/>
<ellipse cx="1511.9" cy="290.6" rx="10.0" ry="6.8" transform="rotate(25.5 1511.9 290.6)" fill="#000"/>
<ellipse cx="1636.3" cy="313.9" rx="10.0" ry="6.8" transform="rotate(25.5 1636.3 313.9)" fill="#000"/>
<ellipse cx="1400.7" cy="317.9" rx="10.0" ry="6.8" transform="rotate(25.5 1400.7 317.9)" fill="#000"/>
<ellipse cx="1464.2" cy="321.3" rx="10.0" ry="6.8" transform="rotate(25.5 1464.2 321.3)" fill="#000"/>
<ellipse cx="1546.4" cy="324.5" rx="10.0" ry="6.8" transform="rotate(25.5 1546.4 324.5)" fill="#000"/>
<ellipse cx="1608.5" cy="335.0" rx="10.0" ry="6.8" transform="rotate(25.5 1608.5 335.0)" fill="#000"/>
<ellipse cx="1527.7" cy="362.1" rx="10.0" ry="6.8" transform="rotate(25.5 1527.7 362.1)" fill="#000"/>
<ellipse cx="1625.1" cy="376.2" rx="10.0" ry="6.8" transform="rotate(25.5 1625.1 376.2)" fill="#000"/>
<ellipse cx="1413.0" cy="388.0" rx="10.0" ry="6.8" transform="rotate(25.5 1413.0 388.0)" fill="#000"/>
<ellipse cx="1382.5" cy="413.7" rx="10.0" ry="6.8" transform="rotate(25.5 1382.5 413.7)" fill="#000"/>
<ellipse cx="1478.9" cy="403.1" rx="10.0" ry="6.8" transform="rotate(25.5 1478.9 403.1)" fill="#000"/>
<ellipse cx="1445.9" cy="422.5" rx="10.0" ry="6.8" transform="rotate(25.5 1445.9 422.5)" fill="#000"/>
<ellipse cx="1523.4" cy="422.8" rx="10.0" ry="6.8" transform="rotate(25.5 1523.4 422.8)" fill="#000"/>
<ellipse cx="1590.3" cy="410.2" rx="10.0" ry="6.8" transform="rotate(25.5 1590.3 410.2)" fill="#000"/>
<ellipse cx="1684.0" cy="410.6" rx="10.0" ry="6.8" transform="rotate(25.5 1684.0 410.6)" fill="#000"/>
<ellipse cx="1723.7" cy="401.5" rx="10.0" ry="6.8" transform="rotate(25.5 1723.7 401.5)" fill="#000"/>
<ellipse cx="1767.1" cy="371.8" rx="10.0" ry="6.8" transform="rotate(25.5 1767.1 371.8)" fill="#000"/>
<ellipse cx="1650.8" cy="463.1" rx="10.0" ry="6.8" transform="rotate(25.5 1650.8 463.1)" fill="#000"/>
<ellipse cx="1589.6" cy="468.3" rx="10.0" ry="6.8" transform="rotate(25.5 1589.6 468.3)" fill="#000"/>
<ellipse cx="1734.7" cy="452.1" rx="10.0" ry="6.8" transform="rotate(25.5 1734.7 452.1)" fill="#000"/>
<ellipse cx="1366.5" cy="458.0" rx="10.0" ry="6.8" transform="rotate(25.5 1366.5 458.0)" fill="#000"/>
<ellipse cx="1419.7" cy="462.4" rx="10.0" ry="6.8" transform="rotate(25.5 1419.7 462.4)" fill="#000"/>
<ellipse cx="1712.1" cy="469.6" rx="10.0" ry="6.8" transform="rotate(25.5 1712.1 469.6)" fill="#000"/>
<polygon points="1481.8,114.4 1515.2,108.0 1590.1,163.0 1604.1,196.2 1677.3,260.0 1638.1,315.9 1626.9,378.2 1529.5,364.1 1466.0,323.3 1445.9,277.9 1423.0,235.9 1430.3,173.8 1451.1,139.1" fill="none" stroke="#8a4646" stroke-width="13.4" stroke-linejoin="miter"/>
<polygon points="1482.3,114.2 1515.8,107.7 1590.7,162.7 1604.7,196.0 1677.8,259.8 1638.7,315.7 1627.4,378.0 1530.0,363.8 1466.5,323.0 1446.5,277.7 1423.5,235.7 1430.8,173.6 1451.6,138.9" fill="none" stroke="#ee6c4d" stroke-width="6.8" stroke-linejoin="miter"/>
</g>
<rect x="1316.7" y="91.0" width="389.4" height="304.7" fill="none" stroke="#1a1a1a" stroke-width="1.8"/>
<rect x="1595" y="424.9" width="2" height="1.1" fill="#ffdcdc"/><rect x="1595" y="429" width="2" height="1.1" fill="#ffdcdc"/>
<line x1="146.3" y1="1018.7" x2="1620" y2="1018.7" stroke="#000" stroke-width="3.9"/>
<polygon points="1613.2,998.2 1649.2,1018.8 1613.2,1039.3" fill="#000"/>
<line x1="444.5" y1="999.6" x2="444.5" y2="1041" stroke="#000" stroke-width="2" stroke-linecap="round"/>
<line x1="779.0" y1="999.6" x2="779.0" y2="1041" stroke="#000" stroke-width="2" stroke-linecap="round"/>
<line x1="1113.8" y1="999.6" x2="1113.8" y2="1041" stroke="#000" stroke-width="2" stroke-linecap="round"/>
<line x1="1448.4" y1="999.6" x2="1448.4" y2="1041" stroke="#000" stroke-width="2" stroke-linecap="round"/>
<g id="label-eps0"><text transform="translate(398.9 1116.1) scale(1.0 1)" font-family="'DejaVu Math TeX Gyre','Liberation Serif',serif" font-size="100" fill="#000" font-style="italic" stroke="#fff" stroke-width="2.2" paint-order="fill stroke">ε</text><text transform="translate(460.3 1130.4) scale(1.147 1)" font-family="'Liberation Serif','DejaVu Serif',serif" font-size="81" fill="#000">0</text></g>
<g id="label-eps1"><text transform="translate(710.9 1112.1) scale(1.0 1)" font-family="'DejaVu Math TeX Gyre','Liberation Serif',serif" font-size="100" fill="#000" font-style="italic" stroke="#fff" stroke-width="2.2" paint-order="fill stroke">ε</text><text transform="translate(772.3 1128.0) scale(1.087 1)" font-family="'Liberation Serif','DejaVu Serif',serif" font-size="79" fill="#000">1</text></g>
<g id="label-dots"><text transform="translate(1067.6 1106.8) scale(1.0 1)" font-family="'Liberation Serif','DejaVu Serif',serif" font-size="95" fill="#000" letter-spacing="3.05">...</text></g>
<g id="label-epsn"><text transform="translate(1357.1 1115.9) scale(0.96 1)" font-family="'DejaVu Math TeX Gyre','Liberation Serif',serif" font-size="102" fill="#000" font-style="italic" stroke="#fff" stroke-width="2.2" paint-order="fill stroke">ε</text><text transform="translate(1416.5 1130.0) scale(1.48 1)" font-family="'Liberation Serif','DejaVu Serif',serif" font-size="80" fill="#000" font-style="italic" stroke="#fff" stroke-width="0.9" paint-order="fill stroke">n</text></g>
<g id="label-eps"><text transform="translate(1662.2 1025.0) scale(0.96 1)" font-family="'DejaVu Math TeX Gyre','Liberation Serif',serif" font-size="139" fill="#000" font-style="italic" stroke="#fff" stroke-width="3.2" paint-order="fill stroke">ε</text></g>
</svg>
</body></html>
